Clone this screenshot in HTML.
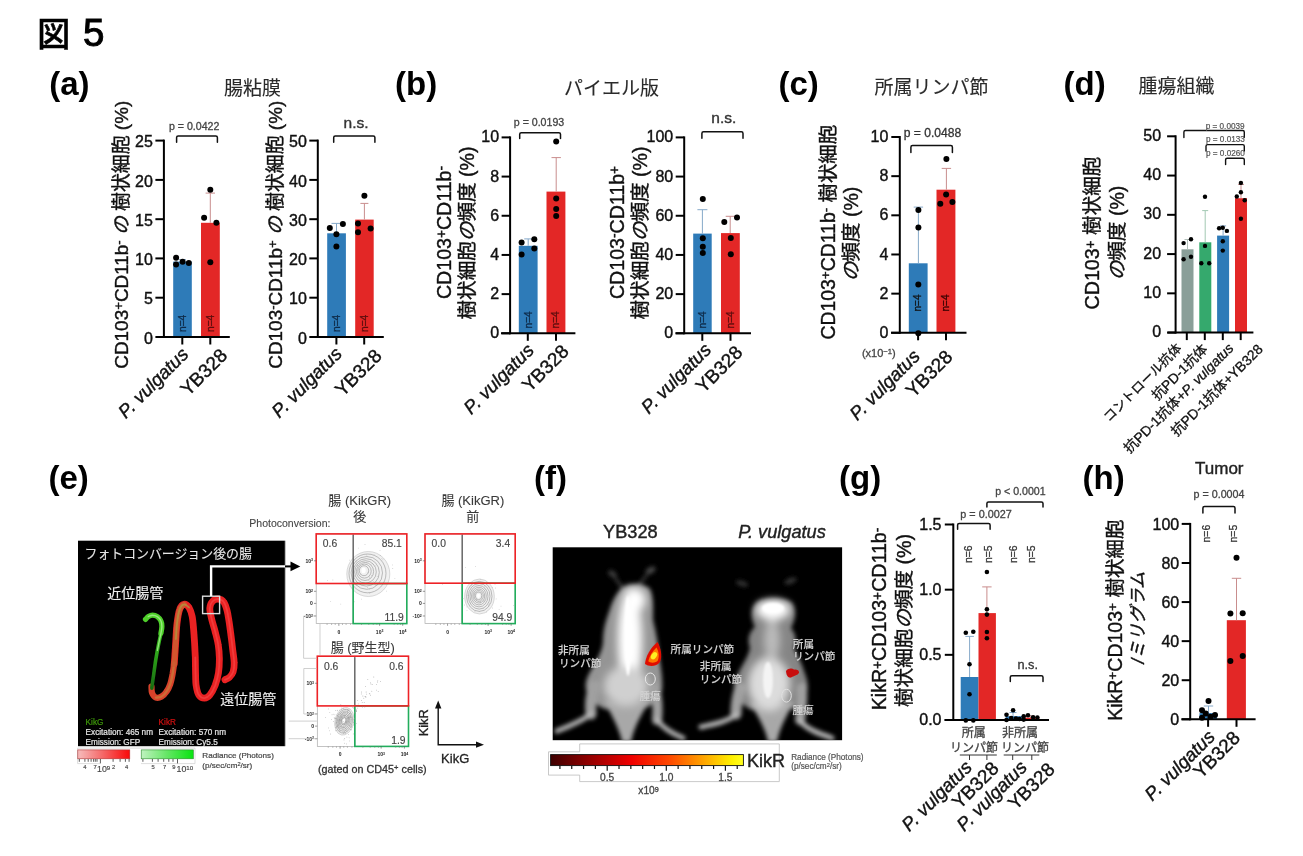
<!DOCTYPE html>
<html lang="ja"><head><meta charset="utf-8"><title>図 5</title>
<style>
html,body{margin:0;padding:0;background:#fff;}
body{width:1303px;height:856px;overflow:hidden;}
svg{display:block;font-family:"Liberation Sans", "Noto Sans CJK JP", sans-serif;}
</style></head><body>
<svg width="1303" height="856" viewBox="0 0 1303 856">
<rect width="1303" height="856" fill="#fff"/>
<defs><filter id="bl1" x="-20%" y="-20%" width="140%" height="140%"><feGaussianBlur stdDeviation="0.7"/></filter>
<filter id="bl2" x="-30%" y="-30%" width="160%" height="160%"><feGaussianBlur stdDeviation="2.2"/></filter>
<filter id="bl3" x="-30%" y="-30%" width="160%" height="160%"><feGaussianBlur stdDeviation="4"/></filter>
<filter id="bl4" x="-30%" y="-30%" width="160%" height="160%"><feGaussianBlur stdDeviation="1.3"/></filter>
<filter id="bl5" x="-30%" y="-30%" width="160%" height="160%"><feGaussianBlur stdDeviation="6"/></filter>
<linearGradient id="gGr" gradientUnits="userSpaceOnUse" x1="0" y1="615" x2="0" y2="690"><stop offset="0" stop-color="#52d82e"/><stop offset="0.35" stop-color="#36b81e"/><stop offset="1" stop-color="#176a10"/></linearGradient>
<linearGradient id="gR" x1="0" x2="1"><stop offset="0" stop-color="#f6bcbc"/><stop offset="0.5" stop-color="#f56464"/><stop offset="1" stop-color="#fa0808"/></linearGradient>
<linearGradient id="gG" x1="0" x2="1"><stop offset="0" stop-color="#c0f2c0"/><stop offset="0.5" stop-color="#64e664"/><stop offset="1" stop-color="#08e410"/></linearGradient>
<linearGradient id="gK" x1="0" x2="1"><stop offset="0" stop-color="#3d0000"/><stop offset="0.18" stop-color="#8a0000"/><stop offset="0.42" stop-color="#f00000"/><stop offset="0.62" stop-color="#ff4a00"/><stop offset="0.8" stop-color="#ffa800"/><stop offset="0.94" stop-color="#fff000"/><stop offset="1" stop-color="#ffff20"/></linearGradient></defs>
<text x="37.2" y="45.9" font-size="33" font-weight="500" fill="#000" stroke="#000" stroke-width="0.5">図<tspan dx="12.7" font-size="38.5" stroke-width="1">5</tspan></text>
<text transform="translate(49.20 94.80)" font-size="33" font-weight="bold" fill="#000">(a)</text>
<text transform="translate(395.10 94.80)" font-size="33" font-weight="bold" fill="#000">(b)</text>
<text transform="translate(778.50 94.80)" font-size="33" font-weight="bold" fill="#000">(c)</text>
<text transform="translate(1063.50 94.80)" font-size="33" font-weight="bold" fill="#000">(d)</text>
<text transform="translate(48.50 489.20)" font-size="33" font-weight="bold" fill="#000">(e)</text>
<text transform="translate(533.90 489.20)" font-size="33" font-weight="bold" fill="#000">(f)</text>
<text transform="translate(839.10 489.20)" font-size="33" font-weight="bold" fill="#000">(g)</text>
<text transform="translate(1082.50 489.20)" font-size="33" font-weight="bold" fill="#000">(h)</text>
<text transform="translate(252.50 94.80)" font-size="19" text-anchor="middle" fill="#2a2a2a" stroke="#2a2a2a" stroke-width="0.12">腸粘膜</text>
<text transform="translate(611.50 94.80)" font-size="19" text-anchor="middle" fill="#2a2a2a" stroke="#2a2a2a" stroke-width="0.12">パイエル版</text>
<text transform="translate(931.50 93.50)" font-size="19" text-anchor="middle" fill="#2a2a2a" stroke="#2a2a2a" stroke-width="0.12">所属リンパ節</text>
<text transform="translate(1176.50 93.30)" font-size="19" text-anchor="middle" fill="#2a2a2a" stroke="#2a2a2a" stroke-width="0.12">腫瘍組織</text>
<rect x="173.20" y="261.60" width="18.60" height="75.40" fill="#2e7bb8"/>
<line x1="182.50" y1="261.60" x2="182.50" y2="259.60" stroke="#86a9c9" stroke-width="1"/>
<line x1="179.00" y1="259.60" x2="186.00" y2="259.60" stroke="#86a9c9" stroke-width="1"/>
<rect x="201.00" y="222.80" width="18.80" height="114.20" fill="#e32726"/>
<line x1="210.30" y1="222.80" x2="210.30" y2="193.10" stroke="#c98d8d" stroke-width="1"/>
<line x1="205.60" y1="193.10" x2="215.00" y2="193.10" stroke="#c98d8d" stroke-width="1"/>
<line x1="163.90" y1="139.60" x2="163.90" y2="338.00" stroke="#000" stroke-width="2"/>
<line x1="156.50" y1="337.00" x2="229.80" y2="337.00" stroke="#000" stroke-width="2"/>
<line x1="155.40" y1="140.60" x2="163.90" y2="140.60" stroke="#000" stroke-width="2"/>
<text transform="translate(152.90 147.33)" font-size="16" text-anchor="end" fill="#111" stroke="#111" stroke-width="0.4">25</text>
<line x1="155.40" y1="179.90" x2="163.90" y2="179.90" stroke="#000" stroke-width="2"/>
<text transform="translate(152.90 186.63)" font-size="16" text-anchor="end" fill="#111" stroke="#111" stroke-width="0.4">20</text>
<line x1="155.40" y1="219.20" x2="163.90" y2="219.20" stroke="#000" stroke-width="2"/>
<text transform="translate(152.90 225.93)" font-size="16" text-anchor="end" fill="#111" stroke="#111" stroke-width="0.4">15</text>
<line x1="155.40" y1="258.40" x2="163.90" y2="258.40" stroke="#000" stroke-width="2"/>
<text transform="translate(152.90 265.13)" font-size="16" text-anchor="end" fill="#111" stroke="#111" stroke-width="0.4">10</text>
<line x1="155.40" y1="297.70" x2="163.90" y2="297.70" stroke="#000" stroke-width="2"/>
<text transform="translate(152.90 304.43)" font-size="16" text-anchor="end" fill="#111" stroke="#111" stroke-width="0.4">5</text>
<line x1="155.40" y1="337.00" x2="163.90" y2="337.00" stroke="#000" stroke-width="2"/>
<text transform="translate(152.90 343.73)" font-size="16" text-anchor="end" fill="#111" stroke="#111" stroke-width="0.4">0</text>
<line x1="182.30" y1="337.00" x2="182.30" y2="344.50" stroke="#000" stroke-width="2"/>
<line x1="210.30" y1="337.00" x2="210.30" y2="344.50" stroke="#000" stroke-width="2"/>
<circle cx="176.10" cy="257.80" r="3" fill="#000"/>
<circle cx="176.10" cy="264.40" r="3" fill="#000"/>
<circle cx="182.60" cy="261.70" r="3" fill="#000"/>
<circle cx="188.80" cy="263.10" r="3" fill="#000"/>
<circle cx="210.30" cy="189.70" r="3" fill="#000"/>
<circle cx="204.10" cy="217.80" r="3" fill="#000"/>
<circle cx="216.40" cy="222.80" r="3" fill="#000"/>
<circle cx="210.30" cy="262.20" r="3" fill="#000"/>
<text transform="translate(185.80 332.00) rotate(-90)" font-size="10.2" fill="#0e2a47" stroke="#0e2a47" stroke-width="0.3">n=4</text>
<text transform="translate(213.80 332.00) rotate(-90)" font-size="10.2" fill="#5a0d0d" stroke="#5a0d0d" stroke-width="0.3">n=4</text>
<path d="M176.60 142.30 V137.60 Q176.60 136.00 178.20 136.00 H215.80 Q217.40 136.00 217.40 137.60 V142.30" fill="none" stroke="#111" stroke-width="1.5" stroke-linecap="round"/>
<text transform="translate(194.20 129.90)" font-size="10.6" text-anchor="middle" fill="#444" stroke="#444" stroke-width="0.3">p = 0.0422</text>
<text transform="translate(127.90 234.70) rotate(-90)" font-size="18.9" text-anchor="middle" fill="#111" stroke="#111" stroke-width="0.4">CD103<tspan dy="-0.34em" font-size="70%">+</tspan><tspan dy="0.238em">CD11b</tspan><tspan dy="-0.34em" font-size="70%">-</tspan><tspan dy="0.238em"> </tspan><tspan font-style="italic">の</tspan> 樹状細胞 (%)</text>
<text transform="translate(189.50 355.50) rotate(-45)" font-size="18.7" text-anchor="end" font-style="italic" fill="#111" stroke="#111" stroke-width="0.4">P. vulgatus</text>
<text transform="translate(228.50 356.50) rotate(-45)" font-size="19" text-anchor="end" fill="#111" stroke="#111" stroke-width="0.4">YB328</text>
<rect x="327.20" y="233.30" width="18.70" height="103.70" fill="#2e7bb8"/>
<line x1="336.50" y1="233.30" x2="336.50" y2="223.40" stroke="#86a9c9" stroke-width="1"/>
<line x1="331.50" y1="223.40" x2="341.50" y2="223.40" stroke="#86a9c9" stroke-width="1"/>
<rect x="355.20" y="219.60" width="18.50" height="117.40" fill="#e32726"/>
<line x1="364.40" y1="219.60" x2="364.40" y2="203.40" stroke="#c98d8d" stroke-width="1"/>
<line x1="360.40" y1="203.40" x2="368.40" y2="203.40" stroke="#c98d8d" stroke-width="1"/>
<line x1="317.80" y1="139.60" x2="317.80" y2="338.00" stroke="#000" stroke-width="2"/>
<line x1="310.00" y1="337.00" x2="383.80" y2="337.00" stroke="#000" stroke-width="2"/>
<line x1="309.30" y1="140.60" x2="317.80" y2="140.60" stroke="#000" stroke-width="2"/>
<text transform="translate(306.80 147.33)" font-size="16" text-anchor="end" fill="#111" stroke="#111" stroke-width="0.4">50</text>
<line x1="309.30" y1="179.90" x2="317.80" y2="179.90" stroke="#000" stroke-width="2"/>
<text transform="translate(306.80 186.63)" font-size="16" text-anchor="end" fill="#111" stroke="#111" stroke-width="0.4">40</text>
<line x1="309.30" y1="219.20" x2="317.80" y2="219.20" stroke="#000" stroke-width="2"/>
<text transform="translate(306.80 225.93)" font-size="16" text-anchor="end" fill="#111" stroke="#111" stroke-width="0.4">30</text>
<line x1="309.30" y1="258.40" x2="317.80" y2="258.40" stroke="#000" stroke-width="2"/>
<text transform="translate(306.80 265.13)" font-size="16" text-anchor="end" fill="#111" stroke="#111" stroke-width="0.4">20</text>
<line x1="309.30" y1="297.70" x2="317.80" y2="297.70" stroke="#000" stroke-width="2"/>
<text transform="translate(306.80 304.43)" font-size="16" text-anchor="end" fill="#111" stroke="#111" stroke-width="0.4">10</text>
<line x1="309.30" y1="337.00" x2="317.80" y2="337.00" stroke="#000" stroke-width="2"/>
<text transform="translate(306.80 343.73)" font-size="16" text-anchor="end" fill="#111" stroke="#111" stroke-width="0.4">0</text>
<line x1="336.40" y1="337.00" x2="336.40" y2="344.50" stroke="#000" stroke-width="2"/>
<line x1="364.20" y1="337.00" x2="364.20" y2="344.50" stroke="#000" stroke-width="2"/>
<circle cx="329.80" cy="228.00" r="3" fill="#000"/>
<circle cx="342.90" cy="223.90" r="3" fill="#000"/>
<circle cx="336.40" cy="234.20" r="3" fill="#000"/>
<circle cx="336.40" cy="246.40" r="3" fill="#000"/>
<circle cx="364.40" cy="195.70" r="3" fill="#000"/>
<circle cx="358.00" cy="223.40" r="3" fill="#000"/>
<circle cx="370.60" cy="228.60" r="3" fill="#000"/>
<circle cx="358.00" cy="232.30" r="3" fill="#000"/>
<text transform="translate(339.80 332.00) rotate(-90)" font-size="10.2" fill="#0e2a47" stroke="#0e2a47" stroke-width="0.3">n=4</text>
<text transform="translate(367.80 332.00) rotate(-90)" font-size="10.2" fill="#5a0d0d" stroke="#5a0d0d" stroke-width="0.3">n=4</text>
<path d="M333.70 142.30 V137.60 Q333.70 136.00 335.30 136.00 H373.30 Q374.90 136.00 374.90 137.60 V142.30" fill="none" stroke="#111" stroke-width="1.5" stroke-linecap="round"/>
<text transform="translate(356.00 127.70)" font-size="15.5" text-anchor="middle" fill="#333" stroke="#333" stroke-width="0.4">n.s.</text>
<text transform="translate(281.70 234.70) rotate(-90)" font-size="18.9" text-anchor="middle" fill="#111" stroke="#111" stroke-width="0.4">CD103<tspan dy="-0.34em" font-size="70%">-</tspan><tspan dy="0.238em">CD11b</tspan><tspan dy="-0.34em" font-size="70%">+</tspan><tspan dy="0.238em"> </tspan><tspan font-style="italic">の</tspan> 樹状細胞 (%)</text>
<text transform="translate(343.00 355.00) rotate(-45)" font-size="18.7" text-anchor="end" font-style="italic" fill="#111" stroke="#111" stroke-width="0.4">P. vulgatus</text>
<text transform="translate(383.00 357.00) rotate(-45)" font-size="19" text-anchor="end" fill="#111" stroke="#111" stroke-width="0.4">YB328</text>
<rect x="518.80" y="245.80" width="18.80" height="87.50" fill="#2e7bb8"/>
<line x1="528.20" y1="245.80" x2="528.20" y2="238.90" stroke="#86a9c9" stroke-width="1"/>
<line x1="524.20" y1="238.90" x2="532.20" y2="238.90" stroke="#86a9c9" stroke-width="1"/>
<rect x="546.50" y="191.60" width="18.90" height="141.70" fill="#e32726"/>
<line x1="556.20" y1="191.60" x2="556.20" y2="157.60" stroke="#c98d8d" stroke-width="1"/>
<line x1="551.50" y1="157.60" x2="560.90" y2="157.60" stroke="#c98d8d" stroke-width="1"/>
<line x1="510.10" y1="136.40" x2="510.10" y2="334.30" stroke="#000" stroke-width="2"/>
<line x1="501.00" y1="333.30" x2="575.40" y2="333.30" stroke="#000" stroke-width="2"/>
<line x1="501.60" y1="137.40" x2="510.10" y2="137.40" stroke="#000" stroke-width="2"/>
<text transform="translate(499.10 142.43)" font-size="16" text-anchor="end" fill="#111" stroke="#111" stroke-width="0.4">10</text>
<line x1="501.60" y1="176.58" x2="510.10" y2="176.58" stroke="#000" stroke-width="2"/>
<text transform="translate(499.10 181.61)" font-size="16" text-anchor="end" fill="#111" stroke="#111" stroke-width="0.4">8</text>
<line x1="501.60" y1="215.76" x2="510.10" y2="215.76" stroke="#000" stroke-width="2"/>
<text transform="translate(499.10 220.79)" font-size="16" text-anchor="end" fill="#111" stroke="#111" stroke-width="0.4">6</text>
<line x1="501.60" y1="254.94" x2="510.10" y2="254.94" stroke="#000" stroke-width="2"/>
<text transform="translate(499.10 259.97)" font-size="16" text-anchor="end" fill="#111" stroke="#111" stroke-width="0.4">4</text>
<line x1="501.60" y1="294.12" x2="510.10" y2="294.12" stroke="#000" stroke-width="2"/>
<text transform="translate(499.10 299.15)" font-size="16" text-anchor="end" fill="#111" stroke="#111" stroke-width="0.4">2</text>
<line x1="501.60" y1="333.30" x2="510.10" y2="333.30" stroke="#000" stroke-width="2"/>
<text transform="translate(499.10 338.33)" font-size="16" text-anchor="end" fill="#111" stroke="#111" stroke-width="0.4">0</text>
<line x1="527.80" y1="333.30" x2="527.80" y2="340.80" stroke="#000" stroke-width="2"/>
<line x1="556.00" y1="333.30" x2="556.00" y2="340.80" stroke="#000" stroke-width="2"/>
<circle cx="521.60" cy="242.40" r="3" fill="#000"/>
<circle cx="534.30" cy="239.30" r="3" fill="#000"/>
<circle cx="534.30" cy="248.60" r="3" fill="#000"/>
<circle cx="521.60" cy="254.60" r="3" fill="#000"/>
<circle cx="556.20" cy="141.50" r="3" fill="#000"/>
<circle cx="556.20" cy="198.50" r="3" fill="#000"/>
<circle cx="556.20" cy="209.00" r="3" fill="#000"/>
<circle cx="556.20" cy="215.90" r="3" fill="#000"/>
<text transform="translate(531.50 328.50) rotate(-90)" font-size="10.2" fill="#0e2a47" stroke="#0e2a47" stroke-width="0.3">n=4</text>
<text transform="translate(559.30 328.50) rotate(-90)" font-size="10.2" fill="#5a0d0d" stroke="#5a0d0d" stroke-width="0.3">n=4</text>
<path d="M519.70 138.60 V134.30 Q519.70 132.70 521.30 132.70 H558.90 Q560.50 132.70 560.50 134.30 V138.60" fill="none" stroke="#111" stroke-width="1.5" stroke-linecap="round"/>
<text transform="translate(539.00 125.80)" font-size="10.6" text-anchor="middle" fill="#444" stroke="#444" stroke-width="0.3">p = 0.0193</text>
<text transform="translate(451.00 232.50) rotate(-90)" font-size="19.6" text-anchor="middle" fill="#111" stroke="#111" stroke-width="0.4">CD103<tspan dy="-0.34em" font-size="70%">+</tspan><tspan dy="0.238em">CD11b</tspan><tspan dy="-0.34em" font-size="70%">-</tspan></text>
<text transform="translate(474.30 233.00) rotate(-90)" font-size="19.6" text-anchor="middle" fill="#111" stroke="#111" stroke-width="0.4">樹状細胞<tspan font-style="italic">の</tspan>頻度 (%)</text>
<text transform="translate(535.00 351.50) rotate(-45)" font-size="18.7" text-anchor="end" font-style="italic" fill="#111" stroke="#111" stroke-width="0.4">P. vulgatus</text>
<text transform="translate(570.00 352.50) rotate(-45)" font-size="19" text-anchor="end" fill="#111" stroke="#111" stroke-width="0.4">YB328</text>
<rect x="693.20" y="233.60" width="18.50" height="99.70" fill="#2e7bb8"/>
<line x1="702.40" y1="233.60" x2="702.40" y2="209.70" stroke="#86a9c9" stroke-width="1"/>
<line x1="697.40" y1="209.70" x2="707.40" y2="209.70" stroke="#86a9c9" stroke-width="1"/>
<rect x="721.00" y="233.10" width="18.80" height="100.20" fill="#e32726"/>
<line x1="730.20" y1="233.10" x2="730.20" y2="216.30" stroke="#c98d8d" stroke-width="1"/>
<line x1="725.70" y1="216.30" x2="734.70" y2="216.30" stroke="#c98d8d" stroke-width="1"/>
<line x1="684.20" y1="136.40" x2="684.20" y2="334.30" stroke="#000" stroke-width="2"/>
<line x1="675.50" y1="333.30" x2="751.00" y2="333.30" stroke="#000" stroke-width="2"/>
<line x1="675.70" y1="137.40" x2="684.20" y2="137.40" stroke="#000" stroke-width="2"/>
<text transform="translate(673.20 142.43)" font-size="16" text-anchor="end" fill="#111" stroke="#111" stroke-width="0.4">100</text>
<line x1="675.70" y1="176.58" x2="684.20" y2="176.58" stroke="#000" stroke-width="2"/>
<text transform="translate(673.20 181.61)" font-size="16" text-anchor="end" fill="#111" stroke="#111" stroke-width="0.4">80</text>
<line x1="675.70" y1="215.76" x2="684.20" y2="215.76" stroke="#000" stroke-width="2"/>
<text transform="translate(673.20 220.79)" font-size="16" text-anchor="end" fill="#111" stroke="#111" stroke-width="0.4">60</text>
<line x1="675.70" y1="254.94" x2="684.20" y2="254.94" stroke="#000" stroke-width="2"/>
<text transform="translate(673.20 259.97)" font-size="16" text-anchor="end" fill="#111" stroke="#111" stroke-width="0.4">40</text>
<line x1="675.70" y1="294.12" x2="684.20" y2="294.12" stroke="#000" stroke-width="2"/>
<text transform="translate(673.20 299.15)" font-size="16" text-anchor="end" fill="#111" stroke="#111" stroke-width="0.4">20</text>
<line x1="675.70" y1="333.30" x2="684.20" y2="333.30" stroke="#000" stroke-width="2"/>
<text transform="translate(673.20 338.33)" font-size="16" text-anchor="end" fill="#111" stroke="#111" stroke-width="0.4">0</text>
<line x1="702.30" y1="333.30" x2="702.30" y2="340.80" stroke="#000" stroke-width="2"/>
<line x1="730.50" y1="333.30" x2="730.50" y2="340.80" stroke="#000" stroke-width="2"/>
<circle cx="702.80" cy="199.10" r="3" fill="#000"/>
<circle cx="702.80" cy="238.30" r="3" fill="#000"/>
<circle cx="702.80" cy="246.70" r="3" fill="#000"/>
<circle cx="702.80" cy="252.90" r="3" fill="#000"/>
<circle cx="737.00" cy="217.40" r="3" fill="#000"/>
<circle cx="724.30" cy="222.10" r="3" fill="#000"/>
<circle cx="730.80" cy="237.90" r="3" fill="#000"/>
<circle cx="730.80" cy="254.20" r="3" fill="#000"/>
<text transform="translate(705.80 328.50) rotate(-90)" font-size="10.2" fill="#0e2a47" stroke="#0e2a47" stroke-width="0.3">n=4</text>
<text transform="translate(733.80 328.50) rotate(-90)" font-size="10.2" fill="#5a0d0d" stroke="#5a0d0d" stroke-width="0.3">n=4</text>
<path d="M701.90 138.30 V133.40 Q701.90 131.80 703.50 131.80 H741.40 Q743.00 131.80 743.00 133.40 V138.30" fill="none" stroke="#111" stroke-width="1.5" stroke-linecap="round"/>
<text transform="translate(723.80 123.40)" font-size="15.5" text-anchor="middle" fill="#333" stroke="#333" stroke-width="0.4">n.s.</text>
<text transform="translate(623.50 232.50) rotate(-90)" font-size="19.6" text-anchor="middle" fill="#111" stroke="#111" stroke-width="0.4">CD103<tspan dy="-0.34em" font-size="70%">-</tspan><tspan dy="0.238em">CD11b</tspan><tspan dy="-0.34em" font-size="70%">+</tspan></text>
<text transform="translate(646.80 233.00) rotate(-90)" font-size="19.6" text-anchor="middle" fill="#111" stroke="#111" stroke-width="0.4">樹状細胞<tspan font-style="italic">の</tspan>頻度 (%)</text>
<text transform="translate(712.30 351.00) rotate(-45)" font-size="18.7" text-anchor="end" font-style="italic" fill="#111" stroke="#111" stroke-width="0.4">P. vulgatus</text>
<text transform="translate(743.80 353.50) rotate(-45)" font-size="19" text-anchor="end" fill="#111" stroke="#111" stroke-width="0.4">YB328</text>
<rect x="908.80" y="263.30" width="18.80" height="69.50" fill="#2e7bb8"/>
<line x1="918.40" y1="263.30" x2="918.40" y2="207.10" stroke="#86a9c9" stroke-width="1"/>
<line x1="913.70" y1="207.10" x2="923.10" y2="207.10" stroke="#86a9c9" stroke-width="1"/>
<rect x="936.50" y="189.70" width="18.90" height="143.10" fill="#e32726"/>
<line x1="946.40" y1="189.70" x2="946.40" y2="168.40" stroke="#c98d8d" stroke-width="1"/>
<line x1="941.70" y1="168.40" x2="951.10" y2="168.40" stroke="#c98d8d" stroke-width="1"/>
<line x1="899.80" y1="136.00" x2="899.80" y2="333.80" stroke="#000" stroke-width="2"/>
<line x1="891.00" y1="332.80" x2="966.50" y2="332.80" stroke="#000" stroke-width="2"/>
<line x1="891.30" y1="137.00" x2="899.80" y2="137.00" stroke="#000" stroke-width="2"/>
<text transform="translate(888.30 142.13)" font-size="16" text-anchor="end" fill="#111" stroke="#111" stroke-width="0.4">10</text>
<line x1="891.30" y1="176.16" x2="899.80" y2="176.16" stroke="#000" stroke-width="2"/>
<text transform="translate(888.30 181.29)" font-size="16" text-anchor="end" fill="#111" stroke="#111" stroke-width="0.4">8</text>
<line x1="891.30" y1="215.32" x2="899.80" y2="215.32" stroke="#000" stroke-width="2"/>
<text transform="translate(888.30 220.45)" font-size="16" text-anchor="end" fill="#111" stroke="#111" stroke-width="0.4">6</text>
<line x1="891.30" y1="254.48" x2="899.80" y2="254.48" stroke="#000" stroke-width="2"/>
<text transform="translate(888.30 259.61)" font-size="16" text-anchor="end" fill="#111" stroke="#111" stroke-width="0.4">4</text>
<line x1="891.30" y1="293.64" x2="899.80" y2="293.64" stroke="#000" stroke-width="2"/>
<text transform="translate(888.30 298.77)" font-size="16" text-anchor="end" fill="#111" stroke="#111" stroke-width="0.4">2</text>
<line x1="891.30" y1="332.80" x2="899.80" y2="332.80" stroke="#000" stroke-width="2"/>
<text transform="translate(888.30 337.93)" font-size="16" text-anchor="end" fill="#111" stroke="#111" stroke-width="0.4">0</text>
<line x1="918.10" y1="332.80" x2="918.10" y2="340.30" stroke="#000" stroke-width="2"/>
<line x1="946.00" y1="332.80" x2="946.00" y2="340.30" stroke="#000" stroke-width="2"/>
<circle cx="918.40" cy="209.90" r="3" fill="#000"/>
<circle cx="918.40" cy="227.50" r="3" fill="#000"/>
<circle cx="918.30" cy="284.40" r="3" fill="#000"/>
<circle cx="918.30" cy="333.20" r="3" fill="#000"/>
<circle cx="946.40" cy="158.90" r="3" fill="#000"/>
<circle cx="946.10" cy="194.40" r="3" fill="#000"/>
<circle cx="940.30" cy="203.70" r="3" fill="#000"/>
<circle cx="952.40" cy="201.90" r="3" fill="#000"/>
<text transform="translate(921.20 311.50) rotate(-90)" font-size="10.5" fill="#111" stroke="#111" stroke-width="0.3" textLength="17" lengthAdjust="spacingAndGlyphs">n=4</text>
<text transform="translate(949.20 311.50) rotate(-90)" font-size="10.5" fill="#300" stroke="#300" stroke-width="0.3" textLength="17" lengthAdjust="spacingAndGlyphs">n=4</text>
<path d="M910.90 152.50 V147.20 Q910.90 145.60 912.50 145.60 H950.80 Q952.40 145.60 952.40 147.20 V152.50" fill="none" stroke="#111" stroke-width="1.5" stroke-linecap="round"/>
<text transform="translate(932.50 137.40)" font-size="12.1" text-anchor="middle" fill="#333" stroke="#333" stroke-width="0.3">p = 0.0488</text>
<text transform="translate(878.80 353.40)" font-size="11" text-anchor="middle" fill="#444" stroke="#444" stroke-width="0.3" dominant-baseline="central">(x10<tspan dy="-0.34em" font-size="70%">−1</tspan><tspan dy="0.238em">)</tspan></text>
<text transform="translate(834.50 232.20) rotate(-90)" font-size="19.4" text-anchor="middle" fill="#111" stroke="#111" stroke-width="0.4">CD103<tspan dy="-0.34em" font-size="70%">+</tspan><tspan dy="0.238em">CD11b</tspan><tspan dy="-0.34em" font-size="70%">-</tspan><tspan dy="0.238em"> 樹状細胞</tspan></text>
<text transform="translate(857.50 234.00) rotate(-90)" font-size="19.6" text-anchor="middle" fill="#111" stroke="#111" stroke-width="0.4"><tspan font-style="italic">の</tspan>頻度 (%)</text>
<text transform="translate(921.00 357.50) rotate(-45)" font-size="18.7" text-anchor="end" font-style="italic" fill="#111" stroke="#111" stroke-width="0.4">P. vulgatus</text>
<text transform="translate(953.80 358.00) rotate(-45)" font-size="19" text-anchor="end" fill="#111" stroke="#111" stroke-width="0.4">YB328</text>
<rect x="1181.50" y="249.30" width="12.00" height="83.30" fill="#8a9f99"/>
<line x1="1187.50" y1="249.30" x2="1187.50" y2="239.50" stroke="#b3c0bb" stroke-width="1"/>
<line x1="1184.50" y1="239.50" x2="1190.50" y2="239.50" stroke="#b3c0bb" stroke-width="1"/>
<rect x="1199.30" y="242.30" width="12.00" height="90.30" fill="#35a96d"/>
<line x1="1205.20" y1="242.30" x2="1205.20" y2="210.60" stroke="#a3c9b3" stroke-width="1"/>
<line x1="1202.20" y1="210.60" x2="1208.20" y2="210.60" stroke="#a3c9b3" stroke-width="1"/>
<rect x="1217.10" y="235.60" width="12.00" height="97.00" fill="#2e7bb8"/>
<line x1="1223.10" y1="235.60" x2="1223.10" y2="225.90" stroke="#86a9c9" stroke-width="1"/>
<line x1="1220.10" y1="225.90" x2="1226.10" y2="225.90" stroke="#86a9c9" stroke-width="1"/>
<rect x="1235.00" y="198.20" width="12.00" height="134.40" fill="#e32726"/>
<line x1="1241.00" y1="198.20" x2="1241.00" y2="184.40" stroke="#c98d8d" stroke-width="1"/>
<line x1="1238.00" y1="184.40" x2="1244.00" y2="184.40" stroke="#c98d8d" stroke-width="1"/>
<line x1="1175.60" y1="135.30" x2="1175.60" y2="333.60" stroke="#000" stroke-width="2"/>
<line x1="1167.50" y1="332.60" x2="1253.40" y2="332.60" stroke="#000" stroke-width="2"/>
<line x1="1167.10" y1="136.30" x2="1175.60" y2="136.30" stroke="#000" stroke-width="2"/>
<text transform="translate(1161.10 140.83)" font-size="16" text-anchor="end" fill="#111" stroke="#111" stroke-width="0.4">50</text>
<line x1="1167.10" y1="175.56" x2="1175.60" y2="175.56" stroke="#000" stroke-width="2"/>
<text transform="translate(1161.10 180.09)" font-size="16" text-anchor="end" fill="#111" stroke="#111" stroke-width="0.4">40</text>
<line x1="1167.10" y1="214.82" x2="1175.60" y2="214.82" stroke="#000" stroke-width="2"/>
<text transform="translate(1161.10 219.35)" font-size="16" text-anchor="end" fill="#111" stroke="#111" stroke-width="0.4">30</text>
<line x1="1167.10" y1="254.08" x2="1175.60" y2="254.08" stroke="#000" stroke-width="2"/>
<text transform="translate(1161.10 258.61)" font-size="16" text-anchor="end" fill="#111" stroke="#111" stroke-width="0.4">20</text>
<line x1="1167.10" y1="293.34" x2="1175.60" y2="293.34" stroke="#000" stroke-width="2"/>
<text transform="translate(1161.10 297.87)" font-size="16" text-anchor="end" fill="#111" stroke="#111" stroke-width="0.4">10</text>
<line x1="1167.10" y1="332.60" x2="1175.60" y2="332.60" stroke="#000" stroke-width="2"/>
<text transform="translate(1161.10 337.13)" font-size="16" text-anchor="end" fill="#111" stroke="#111" stroke-width="0.4">0</text>
<line x1="1186.80" y1="332.60" x2="1186.80" y2="340.10" stroke="#000" stroke-width="2"/>
<line x1="1204.80" y1="332.60" x2="1204.80" y2="340.10" stroke="#000" stroke-width="2"/>
<line x1="1222.80" y1="332.60" x2="1222.80" y2="340.10" stroke="#000" stroke-width="2"/>
<line x1="1240.70" y1="332.60" x2="1240.70" y2="340.10" stroke="#000" stroke-width="2"/>
<circle cx="1183.60" cy="243.10" r="2.2" fill="#000"/>
<circle cx="1191.00" cy="239.30" r="2.2" fill="#000"/>
<circle cx="1183.60" cy="259.20" r="2.2" fill="#000"/>
<circle cx="1191.00" cy="256.70" r="2.2" fill="#000"/>
<circle cx="1205.00" cy="196.70" r="2.2" fill="#000"/>
<circle cx="1205.00" cy="245.90" r="2.2" fill="#000"/>
<circle cx="1201.30" cy="263.30" r="2.2" fill="#000"/>
<circle cx="1209.20" cy="263.30" r="2.2" fill="#000"/>
<circle cx="1219.10" cy="228.30" r="2.2" fill="#000"/>
<circle cx="1222.80" cy="227.80" r="2.2" fill="#000"/>
<circle cx="1226.90" cy="230.90" r="2.2" fill="#000"/>
<circle cx="1222.80" cy="241.20" r="2.2" fill="#000"/>
<circle cx="1222.80" cy="250.60" r="2.2" fill="#000"/>
<circle cx="1240.90" cy="182.90" r="2.2" fill="#000"/>
<circle cx="1240.90" cy="192.20" r="2.2" fill="#000"/>
<circle cx="1236.80" cy="196.50" r="2.2" fill="#000"/>
<circle cx="1244.70" cy="200.30" r="2.2" fill="#000"/>
<circle cx="1240.90" cy="218.80" r="2.2" fill="#000"/>
<path d="M1183.90 137.60 V132.10 Q1183.90 130.50 1185.50 130.50 H1242.70 Q1244.30 130.50 1244.30 132.10 V137.60" fill="none" stroke="#111" stroke-width="1.4" stroke-linecap="round"/>
<path d="M1206.00 151.10 V146.20 Q1206.00 144.60 1207.60 144.60 H1242.70 Q1244.30 144.60 1244.30 146.20 V151.10" fill="none" stroke="#111" stroke-width="1.4" stroke-linecap="round"/>
<path d="M1225.60 164.60 V159.80 Q1225.60 158.20 1227.20 158.20 H1242.70 Q1244.30 158.20 1244.30 159.80 V164.60" fill="none" stroke="#111" stroke-width="1.4" stroke-linecap="round"/>
<text transform="translate(1244.60 128.70)" font-size="8.2" text-anchor="end" fill="#555" stroke="#555" stroke-width="0.2">p = 0.0039</text>
<text transform="translate(1244.90 141.80)" font-size="8.2" text-anchor="end" fill="#555" stroke="#555" stroke-width="0.2">p = 0.0133</text>
<text transform="translate(1244.90 156.20)" font-size="8.2" text-anchor="end" fill="#555" stroke="#555" stroke-width="0.2">p = 0.0260</text>
<text transform="translate(1099.30 233.00) rotate(-90)" font-size="19.6" text-anchor="middle" fill="#111" stroke="#111" stroke-width="0.4">CD103<tspan dy="-0.34em" font-size="70%">+</tspan><tspan dy="0.238em">  樹状細胞</tspan></text>
<text transform="translate(1124.30 233.00) rotate(-90)" font-size="19.6" text-anchor="middle" fill="#111" stroke="#111" stroke-width="0.4"><tspan font-style="italic">の</tspan>頻度 (%)</text>
<text transform="translate(1182.50 349.00) rotate(-45)" font-size="13" text-anchor="end" fill="#111" stroke="#111" stroke-width="0.3">コントロール抗体</text>
<text transform="translate(1208.50 350.00) rotate(-45)" font-size="13.7" text-anchor="end" fill="#111" stroke="#111" stroke-width="0.3">抗PD-1抗体</text>
<text transform="translate(1234.50 349.00) rotate(-45)" font-size="13.9" text-anchor="end" fill="#111" stroke="#111" stroke-width="0.3">抗PD-1抗体+<tspan font-style="italic">P. vulgatus</tspan></text>
<text transform="translate(1263.80 350.00) rotate(-45)" font-size="13.9" text-anchor="end" fill="#111" stroke="#111" stroke-width="0.3">抗PD-1抗体+YB328</text>
<rect x="960.70" y="677.00" width="17.80" height="43.00" fill="#2e7bb8"/>
<line x1="969.60" y1="677.00" x2="969.60" y2="636.40" stroke="#86a9c9" stroke-width="1"/>
<line x1="965.30" y1="636.40" x2="973.90" y2="636.40" stroke="#86a9c9" stroke-width="1"/>
<rect x="978.50" y="613.10" width="17.40" height="106.90" fill="#e32726"/>
<line x1="986.90" y1="613.10" x2="986.90" y2="586.90" stroke="#c98d8d" stroke-width="1"/>
<line x1="982.20" y1="586.90" x2="991.60" y2="586.90" stroke="#c98d8d" stroke-width="1"/>
<rect x="1005.60" y="716.20" width="17.80" height="3.80" fill="#2e7bb8"/>
<line x1="1013.00" y1="716.20" x2="1013.00" y2="712.50" stroke="#86a9c9" stroke-width="1"/>
<line x1="1009.50" y1="712.50" x2="1016.50" y2="712.50" stroke="#86a9c9" stroke-width="1"/>
<rect x="1023.40" y="717.60" width="15.90" height="2.40" fill="#e32726"/>
<line x1="1031.00" y1="717.60" x2="1031.00" y2="716.00" stroke="#c98d8d" stroke-width="1"/>
<line x1="1028.00" y1="716.00" x2="1034.00" y2="716.00" stroke="#c98d8d" stroke-width="1"/>
<line x1="953.30" y1="523.50" x2="953.30" y2="721.00" stroke="#000" stroke-width="2"/>
<line x1="944.50" y1="720.00" x2="1049.00" y2="720.00" stroke="#000" stroke-width="2"/>
<line x1="944.80" y1="524.50" x2="953.30" y2="524.50" stroke="#000" stroke-width="2"/>
<text transform="translate(941.50 529.53)" font-size="16" text-anchor="end" fill="#111" stroke="#111" stroke-width="0.4">1.5</text>
<line x1="944.80" y1="589.67" x2="953.30" y2="589.67" stroke="#000" stroke-width="2"/>
<text transform="translate(941.50 594.69)" font-size="16" text-anchor="end" fill="#111" stroke="#111" stroke-width="0.4">1.0</text>
<line x1="944.80" y1="654.83" x2="953.30" y2="654.83" stroke="#000" stroke-width="2"/>
<text transform="translate(941.50 659.86)" font-size="16" text-anchor="end" fill="#111" stroke="#111" stroke-width="0.4">0.5</text>
<line x1="944.80" y1="720.00" x2="953.30" y2="720.00" stroke="#000" stroke-width="2"/>
<text transform="translate(941.50 725.03)" font-size="16" text-anchor="end" fill="#111" stroke="#111" stroke-width="0.4">0.0</text>
<circle cx="965.80" cy="632.70" r="2.3" fill="#000"/>
<circle cx="973.30" cy="631.80" r="2.3" fill="#000"/>
<circle cx="969.50" cy="664.30" r="2.3" fill="#000"/>
<circle cx="969.50" cy="694.20" r="2.3" fill="#000"/>
<circle cx="965.80" cy="720.40" r="2.3" fill="#000"/>
<circle cx="973.30" cy="720.40" r="2.3" fill="#000"/>
<circle cx="986.90" cy="572.00" r="2.3" fill="#000"/>
<circle cx="986.90" cy="609.30" r="2.3" fill="#000"/>
<circle cx="986.90" cy="614.60" r="2.3" fill="#000"/>
<circle cx="986.90" cy="632.00" r="2.3" fill="#000"/>
<circle cx="986.90" cy="638.20" r="2.3" fill="#000"/>
<circle cx="1006.50" cy="714.80" r="2.3" fill="#000"/>
<circle cx="1013.10" cy="710.30" r="2.3" fill="#000"/>
<circle cx="1006.50" cy="720.00" r="2.3" fill="#000"/>
<circle cx="1011.20" cy="718.10" r="2.3" fill="#000"/>
<circle cx="1015.90" cy="718.50" r="2.3" fill="#000"/>
<circle cx="1019.60" cy="719.00" r="2.3" fill="#000"/>
<circle cx="1023.70" cy="716.30" r="2.3" fill="#000"/>
<circle cx="1028.00" cy="715.30" r="2.3" fill="#000"/>
<circle cx="1023.70" cy="719.60" r="2.3" fill="#000"/>
<circle cx="1033.10" cy="717.20" r="2.3" fill="#000"/>
<circle cx="1037.40" cy="717.60" r="2.3" fill="#000"/>
<path d="M957.60 529.20 V525.00 Q957.60 523.40 959.20 523.40 H988.50 Q990.10 523.40 990.10 525.00 V529.20" fill="none" stroke="#111" stroke-width="1.5" stroke-linecap="round"/>
<path d="M986.90 507.00 V503.50 Q986.90 501.90 988.50 501.90 H1041.40 Q1043.00 501.90 1043.00 503.50 V507.00" fill="none" stroke="#111" stroke-width="1.5" stroke-linecap="round"/>
<path d="M1010.30 681.50 V677.30 Q1010.30 675.70 1011.90 675.70 H1041.40 Q1043.00 675.70 1043.00 677.30 V681.50" fill="none" stroke="#111" stroke-width="1.5" stroke-linecap="round"/>
<text transform="translate(986.00 517.80)" font-size="10.8" text-anchor="middle" fill="#444" stroke="#444" stroke-width="0.3">p = 0.0027</text>
<text transform="translate(1020.40 495.00)" font-size="10.6" text-anchor="middle" fill="#444" stroke="#444" stroke-width="0.3">p &lt; 0.0001</text>
<text transform="translate(1027.70 669.00)" font-size="12.7" text-anchor="middle" fill="#333" stroke="#333" stroke-width="0.3">n.s.</text>
<text transform="translate(972.40 563.00) rotate(-90)" font-size="10.8" fill="#333" stroke="#333" stroke-width="0.3" textLength="17.6" lengthAdjust="spacingAndGlyphs">n=6</text>
<text transform="translate(991.50 563.00) rotate(-90)" font-size="10.8" fill="#333" stroke="#333" stroke-width="0.3" textLength="17.6" lengthAdjust="spacingAndGlyphs">n=5</text>
<text transform="translate(1017.10 563.00) rotate(-90)" font-size="10.8" fill="#333" stroke="#333" stroke-width="0.3" textLength="17.6" lengthAdjust="spacingAndGlyphs">n=6</text>
<text transform="translate(1035.40 563.00) rotate(-90)" font-size="10.8" fill="#333" stroke="#333" stroke-width="0.3" textLength="17.6" lengthAdjust="spacingAndGlyphs">n=5</text>
<text transform="translate(973.70 737.20)" font-size="12" text-anchor="middle" fill="#444" stroke="#444" stroke-width="0.3">所属</text>
<text transform="translate(973.90 752.20)" font-size="12" text-anchor="middle" fill="#444" stroke="#444" stroke-width="0.3">リンパ節</text>
<text transform="translate(1020.10 737.20)" font-size="12" text-anchor="middle" fill="#444" stroke="#444" stroke-width="0.3">非所属</text>
<text transform="translate(1025.00 752.20)" font-size="12" text-anchor="middle" fill="#444" stroke="#444" stroke-width="0.3">リンパ節</text>
<line x1="959.80" y1="755.00" x2="996.80" y2="755.00" stroke="#333" stroke-width="1"/>
<line x1="1003.70" y1="755.00" x2="1039.30" y2="755.00" stroke="#333" stroke-width="1"/>
<line x1="969.50" y1="755.00" x2="969.50" y2="760.00" stroke="#333" stroke-width="1"/>
<line x1="986.90" y1="755.00" x2="986.90" y2="760.00" stroke="#333" stroke-width="1"/>
<line x1="1012.70" y1="755.00" x2="1012.70" y2="760.00" stroke="#333" stroke-width="1"/>
<line x1="1031.80" y1="755.00" x2="1031.80" y2="760.00" stroke="#333" stroke-width="1"/>
<text transform="translate(886.30 619.00) rotate(-90)" font-size="19.6" text-anchor="middle" fill="#111" stroke="#111" stroke-width="0.4">KikR<tspan dy="-0.34em" font-size="70%">+</tspan><tspan dy="0.238em">CD103</tspan><tspan dy="-0.34em" font-size="70%">+</tspan><tspan dy="0.238em">CD11b</tspan><tspan dy="-0.34em" font-size="70%">-</tspan></text>
<text transform="translate(910.50 620.50) rotate(-90)" font-size="19.6" text-anchor="middle" fill="#111" stroke="#111" stroke-width="0.4">樹状細胞<tspan font-style="italic">の</tspan>頻度 (%)</text>
<text transform="translate(973.00 768.50) rotate(-45)" font-size="18.7" text-anchor="end" font-style="italic" fill="#111" stroke="#111" stroke-width="0.4">P. vulgatus</text>
<text transform="translate(1000.00 769.50) rotate(-45)" font-size="19" text-anchor="end" fill="#111" stroke="#111" stroke-width="0.4">YB328</text>
<text transform="translate(1028.00 768.50) rotate(-45)" font-size="18.7" text-anchor="end" font-style="italic" fill="#111" stroke="#111" stroke-width="0.4">P. vulgatus</text>
<text transform="translate(1056.00 770.50) rotate(-45)" font-size="19" text-anchor="end" fill="#111" stroke="#111" stroke-width="0.4">YB328</text>
<rect x="1199.50" y="713.10" width="17.40" height="6.20" fill="#2e7bb8"/>
<line x1="1208.50" y1="713.10" x2="1208.50" y2="706.00" stroke="#86a9c9" stroke-width="1"/>
<line x1="1203.80" y1="706.00" x2="1213.20" y2="706.00" stroke="#86a9c9" stroke-width="1"/>
<rect x="1226.80" y="620.20" width="19.10" height="99.10" fill="#e32726"/>
<line x1="1236.50" y1="620.20" x2="1236.50" y2="578.30" stroke="#c98d8d" stroke-width="1"/>
<line x1="1231.80" y1="578.30" x2="1241.20" y2="578.30" stroke="#c98d8d" stroke-width="1"/>
<line x1="1190.20" y1="522.90" x2="1190.20" y2="720.30" stroke="#000" stroke-width="2"/>
<line x1="1181.40" y1="719.30" x2="1255.60" y2="719.30" stroke="#000" stroke-width="2"/>
<line x1="1181.70" y1="523.90" x2="1190.20" y2="523.90" stroke="#000" stroke-width="2"/>
<text transform="translate(1179.20 529.63)" font-size="16" text-anchor="end" fill="#111" stroke="#111" stroke-width="0.4">100</text>
<line x1="1181.70" y1="562.98" x2="1190.20" y2="562.98" stroke="#000" stroke-width="2"/>
<text transform="translate(1179.20 568.71)" font-size="16" text-anchor="end" fill="#111" stroke="#111" stroke-width="0.4">80</text>
<line x1="1181.70" y1="602.06" x2="1190.20" y2="602.06" stroke="#000" stroke-width="2"/>
<text transform="translate(1179.20 607.79)" font-size="16" text-anchor="end" fill="#111" stroke="#111" stroke-width="0.4">60</text>
<line x1="1181.70" y1="641.14" x2="1190.20" y2="641.14" stroke="#000" stroke-width="2"/>
<text transform="translate(1179.20 646.87)" font-size="16" text-anchor="end" fill="#111" stroke="#111" stroke-width="0.4">40</text>
<line x1="1181.70" y1="680.22" x2="1190.20" y2="680.22" stroke="#000" stroke-width="2"/>
<text transform="translate(1179.20 685.95)" font-size="16" text-anchor="end" fill="#111" stroke="#111" stroke-width="0.4">20</text>
<line x1="1181.70" y1="719.30" x2="1190.20" y2="719.30" stroke="#000" stroke-width="2"/>
<text transform="translate(1179.20 725.03)" font-size="16" text-anchor="end" fill="#111" stroke="#111" stroke-width="0.4">0</text>
<line x1="1208.10" y1="719.30" x2="1208.10" y2="726.80" stroke="#000" stroke-width="2"/>
<line x1="1236.50" y1="719.30" x2="1236.50" y2="726.80" stroke="#000" stroke-width="2"/>
<circle cx="1236.50" cy="557.80" r="3" fill="#000"/>
<circle cx="1230.40" cy="613.60" r="3" fill="#000"/>
<circle cx="1242.70" cy="613.30" r="3" fill="#000"/>
<circle cx="1230.40" cy="661.10" r="3" fill="#000"/>
<circle cx="1242.70" cy="656.10" r="3" fill="#000"/>
<circle cx="1208.50" cy="700.90" r="3" fill="#000"/>
<circle cx="1202.00" cy="710.30" r="3" fill="#000"/>
<circle cx="1205.70" cy="713.50" r="3" fill="#000"/>
<circle cx="1215.00" cy="715.00" r="3" fill="#000"/>
<circle cx="1202.00" cy="717.80" r="3" fill="#000"/>
<circle cx="1210.40" cy="716.80" r="3" fill="#000"/>
<path d="M1202.90 513.00 V508.00 Q1202.90 506.40 1204.50 506.40 H1233.40 Q1235.00 506.40 1235.00 508.00 V513.00" fill="none" stroke="#111" stroke-width="1.5" stroke-linecap="round"/>
<text transform="translate(1219.00 498.30)" font-size="10.7" text-anchor="middle" fill="#444" stroke="#444" stroke-width="0.3">p = 0.0004</text>
<text transform="translate(1219.30 474.00)" font-size="17" text-anchor="middle" fill="#222" stroke="#222" stroke-width="0.4">Tumor</text>
<text transform="translate(1210.00 542.40) rotate(-90)" font-size="10.8" fill="#333" stroke="#333" stroke-width="0.3" textLength="17.6" lengthAdjust="spacingAndGlyphs">n=6</text>
<text transform="translate(1237.40 542.40) rotate(-90)" font-size="10.8" fill="#333" stroke="#333" stroke-width="0.3" textLength="17.6" lengthAdjust="spacingAndGlyphs">n=5</text>
<text transform="translate(1121.60 620.20) rotate(-90)" font-size="19.5" text-anchor="middle" fill="#111" stroke="#111" stroke-width="0.4">KikR<tspan dy="-0.34em" font-size="70%">+</tspan><tspan dy="0.238em">CD103</tspan><tspan dy="-0.34em" font-size="70%">+</tspan><tspan dy="0.238em"> 樹状細胞</tspan></text>
<text transform="translate(1144.40 617.50) rotate(-90)" font-size="17.5" text-anchor="middle" font-style="italic" fill="#111" stroke="#111" stroke-width="0.4">/ミリグラム</text>
<text transform="translate(1216.00 738.00) rotate(-45)" font-size="18.7" text-anchor="end" font-style="italic" fill="#111" stroke="#111" stroke-width="0.4">P. vulgatus</text>
<text transform="translate(1241.30 739.00) rotate(-45)" font-size="19" text-anchor="end" fill="#111" stroke="#111" stroke-width="0.4">YB328</text>
<rect x="78.00" y="540.70" width="206.90" height="205.50" fill="#000"/>
<line x1="285.40" y1="540.70" x2="285.40" y2="746.20" stroke="#bbb" stroke-width="1"/>
<text transform="translate(84.50 557.60)" font-size="12.9" fill="#e6e6e6" stroke="#e6e6e6" stroke-width="0.1">フォトコンバージョン後の腸</text>
<text transform="translate(107.30 598.20)" font-size="14" fill="#f0f0f0" stroke="#f0f0f0" stroke-width="0.15">近位腸管</text>
<text transform="translate(220.20 703.80)" font-size="14" fill="#f0f0f0" stroke="#f0f0f0" stroke-width="0.15">遠位腸管</text>
<g filter="url(#bl1)" fill="none" stroke-linecap="round" stroke-linejoin="round">
<path d="M174.2 664.3 C174.4 662.2 174.8 655.9 175.1 651.7 C175.4 647.5 175.6 643.7 175.9 639.0 C176.2 634.4 176.4 628.5 177.0 623.6 C177.6 618.7 178.4 612.8 179.6 609.6 C180.7 606.4 182.5 604.6 184.0 604.3 C185.6 603.9 187.6 605.5 189.0 607.5 C190.3 609.6 191.4 613.0 192.2 616.6 C192.9 620.2 193.2 624.8 193.6 629.2 C194.0 633.7 194.3 638.6 194.6 643.3 C194.8 647.9 195.1 652.6 195.3 657.3 C195.4 661.9 195.4 666.6 195.5 671.3 C195.7 675.9 195.5 681.3 196.1 685.3 C196.7 689.3 197.5 693.0 198.9 695.1 C200.3 697.2 202.5 698.2 204.4 698.2 C206.2 698.1 208.2 697.0 210.0 694.8 C211.8 692.7 213.7 689.0 215.2 685.3 C216.6 681.6 217.8 677.1 218.5 672.7 C219.2 668.2 219.4 663.3 219.4 658.7 C219.3 654.0 219.0 649.3 218.2 644.7 C217.5 640.0 216.0 635.1 214.9 630.6 C213.7 626.2 212.2 621.8 211.4 618.0 C210.5 614.3 209.7 611.0 209.8 608.2 C210.0 605.5 211.0 603.0 212.4 601.5 C213.8 599.9 216.3 598.9 218.2 599.0 C220.2 599.1 222.4 600.1 223.8 602.1 C225.3 604.0 226.2 607.4 227.1 610.7 C228.0 614.1 228.5 618.0 229.2 622.2 C229.8 626.5 230.5 631.6 231.1 636.2 C231.7 640.9 232.3 645.8 232.8 650.3 C233.3 654.7 234.2 659.2 234.2 662.9 C234.3 666.5 233.9 669.5 233.1 672.0 C232.3 674.4 230.5 676.3 229.2 677.6 C227.8 678.9 225.7 679.3 225.0 679.7" stroke="#ea2024" stroke-width="6.8"/>
<path d="M195.3 657.3 C195.3 659.6 195.4 666.6 195.5 671.3 C195.7 675.9 195.5 681.3 196.1 685.3 C196.7 689.3 197.5 693.0 198.9 695.1 C200.3 697.2 202.5 698.2 204.4 698.2 C206.2 698.1 208.2 697.0 210.0 694.8 C211.8 692.7 213.7 689.0 215.2 685.3 C216.6 681.6 217.8 677.1 218.5 672.7 C219.2 668.2 219.4 663.3 219.4 658.7 C219.3 654.0 219.0 649.3 218.2 644.7 C217.5 640.0 216.0 635.1 214.9 630.6 C213.7 626.2 212.2 621.8 211.4 618.0 C210.5 614.3 209.7 611.0 209.8 608.2 C210.0 605.5 211.0 603.0 212.4 601.5 C213.8 599.9 216.3 598.9 218.2 599.0 C220.2 599.1 222.4 600.1 223.8 602.1 C225.3 604.0 226.2 607.4 227.1 610.7 C228.0 614.1 228.5 618.0 229.2 622.2 C229.8 626.5 230.5 631.6 231.1 636.2 C231.7 640.9 232.3 645.8 232.8 650.3 C233.3 654.7 234.2 659.2 234.2 662.9 C234.3 666.5 233.9 669.5 233.1 672.0 C232.3 674.4 230.5 676.3 229.2 677.6 C227.8 678.9 225.7 679.3 225.0 679.7" stroke="#f6504c" stroke-width="1.8" opacity="0.55"/>
<path d="M151.5 686.7 C151.6 687.7 151.3 691.2 152.1 693.0 C152.8 694.8 154.4 697.0 156.0 697.6 C157.6 698.2 159.9 697.5 161.6 696.5 C163.4 695.5 165.1 693.7 166.5 691.6 C168.0 689.5 169.3 686.8 170.3 683.9 C171.3 681.0 171.9 677.6 172.6 674.1 C173.2 670.6 174.0 664.7 174.2 662.9" stroke="#d8432c" stroke-width="6.2"/>
<path d="M156.0 697.6 C157.0 697.4 159.9 697.5 161.6 696.5 C163.4 695.5 165.1 693.7 166.5 691.6 C168.0 689.5 169.3 686.8 170.3 683.9 C171.3 681.0 171.9 677.6 172.6 674.1 C173.2 670.6 174.0 664.7 174.2 662.9" stroke="#c87a3a" stroke-width="2.4" opacity="0.75"/>
<path d="M174.2 664.3 C174.4 662.2 174.8 655.9 175.1 651.7 C175.4 647.5 175.6 643.7 175.9 639.0 C176.2 634.4 176.4 628.5 177.0 623.6 C177.6 618.7 178.4 612.8 179.6 609.6 C180.7 606.4 183.3 605.2 184.0 604.3" stroke="#cf5a30" stroke-width="5.4" opacity="0.9"/>
<path d="M175.9 639.0 C176.1 636.5 176.4 628.5 177.0 623.6 C177.6 618.7 178.4 612.8 179.6 609.6 C180.7 606.4 182.5 604.6 184.0 604.3 C185.6 603.9 188.1 607.0 189.0 607.5" stroke="#a8a040" stroke-width="1.8" opacity="0.7"/>
<path d="M145.5 619.4 C146.0 619.0 147.1 617.3 148.3 616.6 C149.5 615.9 151.0 615.2 152.5 615.2 C154.0 615.2 156.0 615.7 157.4 616.6 C158.8 617.6 160.2 619.2 160.9 620.8 C161.7 622.5 161.9 624.3 161.9 626.4 C161.9 628.5 161.4 630.9 160.9 633.4 C160.5 636.0 159.7 639.0 159.1 641.8 C158.5 644.7 158.0 647.2 157.4 650.3 C156.9 653.3 156.3 656.8 155.7 660.1 C155.2 663.3 154.8 666.6 154.3 669.9 C153.9 673.1 153.4 676.6 152.9 679.7 C152.5 682.7 152.0 686.7 151.8 688.1" stroke="url(#gGr)" stroke-width="3.6"/>
<path d="M145.5 619.4 C146.0 619.0 147.1 617.3 148.3 616.6 C149.5 615.9 151.0 615.2 152.5 615.2 C154.0 615.2 156.0 615.7 157.4 616.6 C158.8 617.6 160.2 619.2 160.9 620.8 C161.7 622.5 161.9 624.3 161.9 626.4 C161.9 628.5 161.1 632.3 160.9 633.4" stroke="#4fd02c" stroke-width="5.2"/>
<path d="M148.3 616.6 C149.0 616.4 151.0 615.2 152.5 615.2 C154.0 615.2 156.0 615.7 157.4 616.6 C158.8 617.6 160.2 619.2 160.9 620.8 C161.7 622.5 161.9 624.3 161.9 626.4 C161.9 628.5 161.4 630.9 160.9 633.4 C160.5 636.0 159.7 639.0 159.1 641.8 C158.5 644.7 157.7 648.9 157.4 650.3" stroke="#a8f090" stroke-width="1.4" opacity="0.8"/>
</g>
<rect x="202.60" y="596.20" width="17.00" height="17.40" fill="none" stroke="#ddd" stroke-width="1.4"/>
<path d="M211.1 596 V566.4 H290" fill="none" stroke="#fff" stroke-width="2.4"/>
<path d="M285 566.4 H292" fill="none" stroke="#000" stroke-width="2"/>
<path d="M290.5 561.6 L300.3 566.4 L290.5 571.2 Z" fill="#000"/>
<text transform="translate(85.60 725.20)" font-size="8.2" fill="#3f9a0a" stroke="#3f9a0a" stroke-width="0.2">KikG</text>
<text transform="translate(85.60 735.00)" font-size="8.2" fill="#e8e8e8" stroke="#e8e8e8" stroke-width="0.2">Excitation: 465 nm</text>
<text transform="translate(85.60 745.10)" font-size="8.2" fill="#e8e8e8" stroke="#e8e8e8" stroke-width="0.2">Emission: GFP</text>
<text transform="translate(158.60 725.20)" font-size="8.2" fill="#d01010" stroke="#d01010" stroke-width="0.2">KikR</text>
<text transform="translate(158.60 735.00)" font-size="8.2" fill="#e8e8e8" stroke="#e8e8e8" stroke-width="0.2">Excitation: 570 nm</text>
<text transform="translate(158.60 745.10)" font-size="8.2" fill="#e8e8e8" stroke="#e8e8e8" stroke-width="0.2">Emission: Cy5.5</text>
<path d="M77.6 763.6 V748.1 H195 V763.6 H141 M77.6 763.6 H100" fill="none" stroke="#d0d0d0" stroke-width="0.7"/>
<rect x="77.80" y="749.90" width="52.00" height="8.90" fill="url(#gR)" stroke="#a33" stroke-width="0.6"/>
<rect x="141.20" y="749.90" width="52.10" height="8.90" fill="url(#gG)" stroke="#2a8a2a" stroke-width="0.6"/>
<line x1="79.30" y1="759.00" x2="79.30" y2="761.80" stroke="#333" stroke-width="0.8"/>
<line x1="84.90" y1="759.00" x2="84.90" y2="761.80" stroke="#333" stroke-width="0.8"/>
<line x1="88.20" y1="759.00" x2="88.20" y2="761.80" stroke="#333" stroke-width="0.8"/>
<line x1="91.10" y1="759.00" x2="91.10" y2="761.80" stroke="#333" stroke-width="0.8"/>
<line x1="93.60" y1="759.00" x2="93.60" y2="761.80" stroke="#333" stroke-width="0.8"/>
<line x1="95.30" y1="759.00" x2="95.30" y2="761.80" stroke="#333" stroke-width="0.8"/>
<line x1="97.00" y1="759.00" x2="97.00" y2="761.80" stroke="#333" stroke-width="0.8"/>
<line x1="113.10" y1="759.00" x2="113.10" y2="761.80" stroke="#333" stroke-width="0.8"/>
<line x1="120.10" y1="759.00" x2="120.10" y2="761.80" stroke="#333" stroke-width="0.8"/>
<line x1="125.40" y1="759.00" x2="125.40" y2="761.80" stroke="#333" stroke-width="0.8"/>
<line x1="129.10" y1="759.00" x2="129.10" y2="761.80" stroke="#333" stroke-width="0.8"/>
<line x1="100.40" y1="759.00" x2="100.40" y2="763.40" stroke="#333" stroke-width="0.8"/>
<line x1="142.90" y1="759.00" x2="142.90" y2="761.80" stroke="#333" stroke-width="0.8"/>
<line x1="152.40" y1="759.00" x2="152.40" y2="761.80" stroke="#333" stroke-width="0.8"/>
<line x1="158.10" y1="759.00" x2="158.10" y2="761.80" stroke="#333" stroke-width="0.8"/>
<line x1="163.70" y1="759.00" x2="163.70" y2="761.80" stroke="#333" stroke-width="0.8"/>
<line x1="168.80" y1="759.00" x2="168.80" y2="761.80" stroke="#333" stroke-width="0.8"/>
<line x1="173.00" y1="759.00" x2="173.00" y2="761.80" stroke="#333" stroke-width="0.8"/>
<line x1="177.50" y1="759.00" x2="177.50" y2="763.40" stroke="#333" stroke-width="0.8"/>
<text transform="translate(84.90 768.70)" font-size="5.8" text-anchor="middle" fill="#555" stroke="#555" stroke-width="0.2">4</text>
<text transform="translate(95.00 768.70)" font-size="5.8" text-anchor="middle" fill="#555" stroke="#555" stroke-width="0.2">7</text>
<text transform="translate(113.60 768.70)" font-size="5.8" text-anchor="middle" fill="#555" stroke="#555" stroke-width="0.2">2</text>
<text transform="translate(126.60 768.70)" font-size="5.8" text-anchor="middle" fill="#555" stroke="#555" stroke-width="0.2">4</text>
<text transform="translate(153.10 768.70)" font-size="5.8" text-anchor="middle" fill="#555" stroke="#555" stroke-width="0.2">5</text>
<text transform="translate(164.50 768.70)" font-size="5.8" text-anchor="middle" fill="#555" stroke="#555" stroke-width="0.2">7</text>
<text transform="translate(173.80 768.70)" font-size="5.8" text-anchor="middle" fill="#555" stroke="#555" stroke-width="0.2">9</text>
<text transform="translate(97.00 772.30)" font-size="8.8" fill="#444" stroke="#444" stroke-width="0.15">10<tspan dy="-0.34em" font-size="70%">9</tspan></text>
<text transform="translate(176.50 772.30)" font-size="8.8" fill="#444" stroke="#444" stroke-width="0.15">10<tspan dy="-0.34em" font-size="70%">10</tspan></text>
<text transform="translate(202.30 758.30)" font-size="8.1" fill="#444" stroke="#444" stroke-width="0.2">Radiance (Photons)</text>
<text transform="translate(202.30 768.30)" font-size="8.1" fill="#444" stroke="#444" stroke-width="0.2">(p/sec/cm<tspan dy="-0.34em" font-size="70%">2</tspan><tspan dy="0.238em">/sr)</tspan></text>
<text transform="translate(249.30 527.30)" font-size="10.5" fill="#444" stroke="#444" stroke-width="0.1">Photoconversion:</text>
<rect x="316.20" y="533.90" width="90.60" height="89.70" fill="#fff" stroke="#aaa" stroke-width="0.7"/>
<g transform="translate(368.3 574.0) rotate(0)" fill="none" stroke="#8a8a8a" stroke-width="0.55">
<ellipse rx="21.5" ry="22.5" fill="#f1f1f1" stroke="#bbb"/>
<ellipse cx="-0.8" cy="-0.6" rx="18.5" ry="19.4"/>
<ellipse cx="-1.5" cy="-1.1" rx="15.7" ry="16.4"/>
<ellipse cx="-2.1" cy="-1.6" rx="13.1" ry="13.7"/>
<ellipse cx="-2.8" cy="-2.1" rx="10.8" ry="11.2"/>
<ellipse cx="-3.3" cy="-2.5" rx="8.6" ry="9.0"/>
<ellipse cx="-3.8" cy="-2.9" rx="6.7" ry="7.0"/>
<ellipse cx="-4.3" cy="-3.3" rx="4.7" ry="5.0"/>
<ellipse cx="-4.7" cy="-3.6" rx="2.1" ry="2.9" fill="#fff" stroke="none"/>
</g>
<line x1="353.20" y1="533.90" x2="353.20" y2="623.60" stroke="#777" stroke-width="0.9"/>
<rect x="353.20" y="583.50" width="53.60" height="40.10" fill="none" stroke="#22ad5c" stroke-width="1.6"/>
<rect x="316.20" y="533.90" width="90.60" height="49.60" fill="none" stroke="#ee2226" stroke-width="1.6"/>
<line x1="353.20" y1="534.90" x2="353.20" y2="582.50" stroke="#5a5a5a" stroke-width="1.1"/>
<text transform="translate(359.70 505.30)" font-size="13" text-anchor="middle" fill="#3a3a3a" stroke="#3a3a3a" stroke-width="0.1">腸 (KikGR)</text>
<text transform="translate(359.70 520.80)" font-size="13" text-anchor="middle" fill="#3a3a3a" stroke="#3a3a3a" stroke-width="0.1">後</text>
<text transform="translate(322.80 547.30)" font-size="10.3" fill="#444" stroke="#444" stroke-width="0.15">0.6</text>
<text transform="translate(401.80 547.30)" font-size="10.3" text-anchor="end" fill="#444" stroke="#444" stroke-width="0.15">85.1</text>
<text transform="translate(403.80 621.40)" font-size="10.3" text-anchor="end" fill="#444" stroke="#444" stroke-width="0.15">11.9</text>
<text transform="translate(312.90 562.61)" font-size="5" text-anchor="end" font-weight="bold" fill="#222">10<tspan dy="-0.34em" font-size="70%">3</tspan></text>
<line x1="314.00" y1="560.81" x2="316.20" y2="560.81" stroke="#555" stroke-width="0.6"/>
<text transform="translate(312.90 593.11)" font-size="5" text-anchor="end" font-weight="bold" fill="#222">10<tspan dy="-0.34em" font-size="70%">2</tspan></text>
<line x1="314.00" y1="591.31" x2="316.20" y2="591.31" stroke="#555" stroke-width="0.6"/>
<text transform="translate(312.90 605.22)" font-size="5" text-anchor="end" font-weight="bold" fill="#222">0</text>
<line x1="314.00" y1="603.42" x2="316.20" y2="603.42" stroke="#555" stroke-width="0.6"/>
<text transform="translate(312.90 617.78)" font-size="5" text-anchor="end" font-weight="bold" fill="#222">-10<tspan dy="-0.34em" font-size="70%">2</tspan></text>
<line x1="314.00" y1="615.98" x2="316.20" y2="615.98" stroke="#555" stroke-width="0.6"/>
<text transform="translate(338.85 633.60)" font-size="5" text-anchor="middle" font-weight="bold" fill="#222">0</text>
<line x1="338.85" y1="623.60" x2="338.85" y2="625.80" stroke="#555" stroke-width="0.6"/>
<text transform="translate(379.62 633.60)" font-size="5" text-anchor="middle" font-weight="bold" fill="#222">10<tspan dy="-0.34em" font-size="70%">3</tspan></text>
<line x1="379.62" y1="623.60" x2="379.62" y2="625.80" stroke="#555" stroke-width="0.6"/>
<text transform="translate(402.72 633.60)" font-size="5" text-anchor="middle" font-weight="bold" fill="#222">10<tspan dy="-0.34em" font-size="70%">4</tspan></text>
<line x1="402.72" y1="623.60" x2="402.72" y2="625.80" stroke="#555" stroke-width="0.6"/>
<line x1="327.07" y1="623.60" x2="327.07" y2="625.00" stroke="#777" stroke-width="0.5"/>
<line x1="331.60" y1="623.60" x2="331.60" y2="625.00" stroke="#777" stroke-width="0.5"/>
<line x1="335.23" y1="623.60" x2="335.23" y2="625.00" stroke="#777" stroke-width="0.5"/>
<line x1="342.47" y1="623.60" x2="342.47" y2="625.00" stroke="#777" stroke-width="0.5"/>
<line x1="346.10" y1="623.60" x2="346.10" y2="625.00" stroke="#777" stroke-width="0.5"/>
<line x1="350.63" y1="623.60" x2="350.63" y2="625.00" stroke="#777" stroke-width="0.5"/>
<line x1="361.50" y1="623.60" x2="361.50" y2="625.00" stroke="#777" stroke-width="0.5"/>
<line x1="368.75" y1="623.60" x2="368.75" y2="625.00" stroke="#777" stroke-width="0.5"/>
<line x1="373.28" y1="623.60" x2="373.28" y2="625.00" stroke="#777" stroke-width="0.5"/>
<line x1="376.90" y1="623.60" x2="376.90" y2="625.00" stroke="#777" stroke-width="0.5"/>
<line x1="394.12" y1="623.60" x2="394.12" y2="625.00" stroke="#777" stroke-width="0.5"/>
<line x1="397.74" y1="623.60" x2="397.74" y2="625.00" stroke="#777" stroke-width="0.5"/>
<line x1="400.46" y1="623.60" x2="400.46" y2="625.00" stroke="#777" stroke-width="0.5"/>
<rect x="425.00" y="533.90" width="90.20" height="89.70" fill="#fff" stroke="#aaa" stroke-width="0.7"/>
<g transform="translate(479.5 596.5) rotate(0)" fill="none" stroke="#8a8a8a" stroke-width="0.55">
<ellipse rx="14.8" ry="17.5" fill="#f1f1f1" stroke="#bbb"/>
<ellipse cx="-0.2" cy="-0.1" rx="12.7" ry="15.0"/>
<ellipse cx="-0.3" cy="-0.2" rx="10.8" ry="12.8"/>
<ellipse cx="-0.5" cy="-0.3" rx="9.0" ry="10.7"/>
<ellipse cx="-0.6" cy="-0.4" rx="7.4" ry="8.8"/>
<ellipse cx="-0.7" cy="-0.5" rx="5.9" ry="7.0"/>
<ellipse cx="-0.8" cy="-0.6" rx="4.6" ry="5.4"/>
<ellipse cx="-0.9" cy="-0.7" rx="3.3" ry="3.9"/>
<ellipse cx="-1.0" cy="-0.7" rx="1.5" ry="2.3" fill="#fff" stroke="none"/>
</g>
<line x1="462.20" y1="533.90" x2="462.20" y2="623.60" stroke="#777" stroke-width="0.9"/>
<rect x="462.20" y="583.20" width="53.00" height="40.40" fill="none" stroke="#22ad5c" stroke-width="1.6"/>
<rect x="425.00" y="533.90" width="90.20" height="49.30" fill="none" stroke="#ee2226" stroke-width="1.6"/>
<line x1="462.20" y1="534.90" x2="462.20" y2="582.20" stroke="#5a5a5a" stroke-width="1.1"/>
<text transform="translate(472.80 505.30)" font-size="13" text-anchor="middle" fill="#3a3a3a" stroke="#3a3a3a" stroke-width="0.1">腸 (KikGR)</text>
<text transform="translate(472.80 520.80)" font-size="13" text-anchor="middle" fill="#3a3a3a" stroke="#3a3a3a" stroke-width="0.1">前</text>
<text transform="translate(431.60 547.30)" font-size="10.3" fill="#444" stroke="#444" stroke-width="0.15">0.0</text>
<text transform="translate(510.20 547.30)" font-size="10.3" text-anchor="end" fill="#444" stroke="#444" stroke-width="0.15">3.4</text>
<text transform="translate(512.20 621.40)" font-size="10.3" text-anchor="end" fill="#444" stroke="#444" stroke-width="0.15">94.9</text>
<text transform="translate(421.70 562.61)" font-size="5" text-anchor="end" font-weight="bold" fill="#222">10<tspan dy="-0.34em" font-size="70%">3</tspan></text>
<line x1="422.80" y1="560.81" x2="425.00" y2="560.81" stroke="#555" stroke-width="0.6"/>
<text transform="translate(421.70 593.11)" font-size="5" text-anchor="end" font-weight="bold" fill="#222">10<tspan dy="-0.34em" font-size="70%">2</tspan></text>
<line x1="422.80" y1="591.31" x2="425.00" y2="591.31" stroke="#555" stroke-width="0.6"/>
<text transform="translate(421.70 605.22)" font-size="5" text-anchor="end" font-weight="bold" fill="#222">0</text>
<line x1="422.80" y1="603.42" x2="425.00" y2="603.42" stroke="#555" stroke-width="0.6"/>
<text transform="translate(421.70 617.78)" font-size="5" text-anchor="end" font-weight="bold" fill="#222">-10<tspan dy="-0.34em" font-size="70%">2</tspan></text>
<line x1="422.80" y1="615.98" x2="425.00" y2="615.98" stroke="#555" stroke-width="0.6"/>
<text transform="translate(447.55 633.60)" font-size="5" text-anchor="middle" font-weight="bold" fill="#222">0</text>
<line x1="447.55" y1="623.60" x2="447.55" y2="625.80" stroke="#555" stroke-width="0.6"/>
<text transform="translate(488.14 633.60)" font-size="5" text-anchor="middle" font-weight="bold" fill="#222">10<tspan dy="-0.34em" font-size="70%">3</tspan></text>
<line x1="488.14" y1="623.60" x2="488.14" y2="625.80" stroke="#555" stroke-width="0.6"/>
<text transform="translate(511.14 633.60)" font-size="5" text-anchor="middle" font-weight="bold" fill="#222">10<tspan dy="-0.34em" font-size="70%">4</tspan></text>
<line x1="511.14" y1="623.60" x2="511.14" y2="625.80" stroke="#555" stroke-width="0.6"/>
<line x1="435.82" y1="623.60" x2="435.82" y2="625.00" stroke="#777" stroke-width="0.5"/>
<line x1="440.33" y1="623.60" x2="440.33" y2="625.00" stroke="#777" stroke-width="0.5"/>
<line x1="443.94" y1="623.60" x2="443.94" y2="625.00" stroke="#777" stroke-width="0.5"/>
<line x1="451.16" y1="623.60" x2="451.16" y2="625.00" stroke="#777" stroke-width="0.5"/>
<line x1="454.77" y1="623.60" x2="454.77" y2="625.00" stroke="#777" stroke-width="0.5"/>
<line x1="459.28" y1="623.60" x2="459.28" y2="625.00" stroke="#777" stroke-width="0.5"/>
<line x1="470.10" y1="623.60" x2="470.10" y2="625.00" stroke="#777" stroke-width="0.5"/>
<line x1="477.32" y1="623.60" x2="477.32" y2="625.00" stroke="#777" stroke-width="0.5"/>
<line x1="481.83" y1="623.60" x2="481.83" y2="625.00" stroke="#777" stroke-width="0.5"/>
<line x1="485.43" y1="623.60" x2="485.43" y2="625.00" stroke="#777" stroke-width="0.5"/>
<line x1="502.57" y1="623.60" x2="502.57" y2="625.00" stroke="#777" stroke-width="0.5"/>
<line x1="506.18" y1="623.60" x2="506.18" y2="625.00" stroke="#777" stroke-width="0.5"/>
<line x1="508.89" y1="623.60" x2="508.89" y2="625.00" stroke="#777" stroke-width="0.5"/>
<rect x="317.30" y="656.20" width="91.20" height="90.20" fill="#fff" stroke="#aaa" stroke-width="0.7"/>
<g transform="translate(344.3 721.3) rotate(12)" fill="none" stroke="#8a8a8a" stroke-width="0.55">
<ellipse rx="9.4" ry="14.0" fill="#f1f1f1" stroke="#bbb"/>
<ellipse cx="-0.1" cy="-0.1" rx="8.1" ry="12.0"/>
<ellipse cx="-0.2" cy="-0.2" rx="6.9" ry="10.2"/>
<ellipse cx="-0.3" cy="-0.3" rx="5.7" ry="8.5"/>
<ellipse cx="-0.4" cy="-0.4" rx="4.7" ry="7.0"/>
<ellipse cx="-0.5" cy="-0.4" rx="3.8" ry="5.6"/>
<ellipse cx="-0.5" cy="-0.5" rx="2.9" ry="4.3"/>
<ellipse cx="-0.6" cy="-0.5" rx="2.1" ry="3.1"/>
<ellipse cx="-0.6" cy="-0.6" rx="0.9" ry="1.8" fill="#fff" stroke="none"/>
</g>
<line x1="354.80" y1="656.20" x2="354.80" y2="746.40" stroke="#777" stroke-width="0.9"/>
<rect x="354.80" y="705.90" width="53.70" height="40.50" fill="none" stroke="#22ad5c" stroke-width="1.6"/>
<rect x="317.30" y="656.20" width="91.20" height="49.70" fill="none" stroke="#ee2226" stroke-width="1.6"/>
<line x1="354.80" y1="657.20" x2="354.80" y2="704.90" stroke="#5a5a5a" stroke-width="1.1"/>
<text transform="translate(362.80 652.00)" font-size="13" text-anchor="middle" fill="#3a3a3a" stroke="#3a3a3a" stroke-width="0.1">腸 (野生型)</text>
<text transform="translate(323.90 669.60)" font-size="10.3" fill="#444" stroke="#444" stroke-width="0.15">0.6</text>
<text transform="translate(403.50 669.60)" font-size="10.3" text-anchor="end" fill="#444" stroke="#444" stroke-width="0.15">0.6</text>
<text transform="translate(405.50 744.20)" font-size="10.3" text-anchor="end" fill="#444" stroke="#444" stroke-width="0.15">1.9</text>
<text transform="translate(314.00 685.06)" font-size="5" text-anchor="end" font-weight="bold" fill="#222">10<tspan dy="-0.34em" font-size="70%">3</tspan></text>
<line x1="315.10" y1="683.26" x2="317.30" y2="683.26" stroke="#555" stroke-width="0.6"/>
<text transform="translate(314.00 715.73)" font-size="5" text-anchor="end" font-weight="bold" fill="#222">10<tspan dy="-0.34em" font-size="70%">2</tspan></text>
<line x1="315.10" y1="713.93" x2="317.30" y2="713.93" stroke="#555" stroke-width="0.6"/>
<text transform="translate(314.00 727.90)" font-size="5" text-anchor="end" font-weight="bold" fill="#222">0</text>
<line x1="315.10" y1="726.11" x2="317.30" y2="726.11" stroke="#555" stroke-width="0.6"/>
<text transform="translate(314.00 740.53)" font-size="5" text-anchor="end" font-weight="bold" fill="#222">-10<tspan dy="-0.34em" font-size="70%">2</tspan></text>
<line x1="315.10" y1="738.73" x2="317.30" y2="738.73" stroke="#555" stroke-width="0.6"/>
<text transform="translate(340.10 756.40)" font-size="5" text-anchor="middle" font-weight="bold" fill="#222">0</text>
<line x1="340.10" y1="746.40" x2="340.10" y2="748.60" stroke="#555" stroke-width="0.6"/>
<text transform="translate(381.14 756.40)" font-size="5" text-anchor="middle" font-weight="bold" fill="#222">10<tspan dy="-0.34em" font-size="70%">3</tspan></text>
<line x1="381.14" y1="746.40" x2="381.14" y2="748.60" stroke="#555" stroke-width="0.6"/>
<text transform="translate(404.40 756.40)" font-size="5" text-anchor="middle" font-weight="bold" fill="#222">10<tspan dy="-0.34em" font-size="70%">4</tspan></text>
<line x1="404.40" y1="746.40" x2="404.40" y2="748.60" stroke="#555" stroke-width="0.6"/>
<line x1="328.24" y1="746.40" x2="328.24" y2="747.80" stroke="#777" stroke-width="0.5"/>
<line x1="332.80" y1="746.40" x2="332.80" y2="747.80" stroke="#777" stroke-width="0.5"/>
<line x1="336.45" y1="746.40" x2="336.45" y2="747.80" stroke="#777" stroke-width="0.5"/>
<line x1="343.75" y1="746.40" x2="343.75" y2="747.80" stroke="#777" stroke-width="0.5"/>
<line x1="347.40" y1="746.40" x2="347.40" y2="747.80" stroke="#777" stroke-width="0.5"/>
<line x1="351.96" y1="746.40" x2="351.96" y2="747.80" stroke="#777" stroke-width="0.5"/>
<line x1="362.90" y1="746.40" x2="362.90" y2="747.80" stroke="#777" stroke-width="0.5"/>
<line x1="370.20" y1="746.40" x2="370.20" y2="747.80" stroke="#777" stroke-width="0.5"/>
<line x1="374.76" y1="746.40" x2="374.76" y2="747.80" stroke="#777" stroke-width="0.5"/>
<line x1="378.40" y1="746.40" x2="378.40" y2="747.80" stroke="#777" stroke-width="0.5"/>
<line x1="395.73" y1="746.40" x2="395.73" y2="747.80" stroke="#777" stroke-width="0.5"/>
<line x1="399.38" y1="746.40" x2="399.38" y2="747.80" stroke="#777" stroke-width="0.5"/>
<line x1="402.12" y1="746.40" x2="402.12" y2="747.80" stroke="#777" stroke-width="0.5"/>
<circle cx="361.3" cy="693.9" r="0.42" fill="#888"/>
<circle cx="373.8" cy="677.0" r="0.42" fill="#888"/>
<circle cx="339.7" cy="719.7" r="0.42" fill="#888"/>
<circle cx="363.8" cy="698.2" r="0.42" fill="#888"/>
<circle cx="356.6" cy="711.0" r="0.42" fill="#888"/>
<circle cx="362.2" cy="702.6" r="0.42" fill="#888"/>
<circle cx="356.1" cy="709.6" r="0.42" fill="#888"/>
<circle cx="349.4" cy="713.8" r="0.42" fill="#888"/>
<circle cx="361.6" cy="700.7" r="0.42" fill="#888"/>
<circle cx="371.8" cy="691.2" r="0.42" fill="#888"/>
<circle cx="377.8" cy="680.8" r="0.42" fill="#888"/>
<circle cx="370.4" cy="682.8" r="0.42" fill="#888"/>
<circle cx="354.3" cy="712.7" r="0.42" fill="#888"/>
<circle cx="377.4" cy="682.0" r="0.42" fill="#888"/>
<circle cx="354.4" cy="711.9" r="0.42" fill="#888"/>
<circle cx="346.1" cy="722.0" r="0.42" fill="#888"/>
<circle cx="345.7" cy="715.1" r="0.42" fill="#888"/>
<circle cx="353.7" cy="708.0" r="0.42" fill="#888"/>
<circle cx="347.3" cy="712.3" r="0.42" fill="#888"/>
<circle cx="348.1" cy="717.4" r="0.42" fill="#888"/>
<circle cx="366.7" cy="694.1" r="0.42" fill="#888"/>
<circle cx="365.0" cy="696.4" r="0.42" fill="#888"/>
<circle cx="349.0" cy="718.6" r="0.42" fill="#888"/>
<circle cx="376.6" cy="690.1" r="0.42" fill="#888"/>
<circle cx="376.4" cy="684.6" r="0.42" fill="#888"/>
<circle cx="347.8" cy="709.4" r="0.42" fill="#888"/>
<circle cx="348.0" cy="710.3" r="0.42" fill="#888"/>
<circle cx="378.2" cy="691.3" r="0.42" fill="#888"/>
<circle cx="345.4" cy="721.2" r="0.42" fill="#888"/>
<circle cx="369.3" cy="693.3" r="0.42" fill="#888"/>
<circle cx="357.9" cy="706.4" r="0.42" fill="#888"/>
<circle cx="350.8" cy="716.3" r="0.42" fill="#888"/>
<circle cx="365.9" cy="697.4" r="0.42" fill="#888"/>
<circle cx="351.3" cy="717.2" r="0.42" fill="#888"/>
<circle cx="355.0" cy="713.5" r="0.42" fill="#888"/>
<circle cx="366.1" cy="692.0" r="0.42" fill="#888"/>
<circle cx="348.1" cy="717.1" r="0.42" fill="#888"/>
<circle cx="358.2" cy="703.9" r="0.42" fill="#888"/>
<circle cx="369.9" cy="693.9" r="0.42" fill="#888"/>
<circle cx="370.5" cy="695.2" r="0.42" fill="#888"/>
<circle cx="350.2" cy="713.4" r="0.42" fill="#888"/>
<circle cx="362.3" cy="707.0" r="0.42" fill="#888"/>
<circle cx="372.1" cy="684.5" r="0.42" fill="#888"/>
<circle cx="362.9" cy="696.0" r="0.42" fill="#888"/>
<circle cx="356.5" cy="711.6" r="0.42" fill="#888"/>
<circle cx="380.6" cy="681.4" r="0.42" fill="#888"/>
<circle cx="356.8" cy="706.6" r="0.42" fill="#888"/>
<circle cx="352.5" cy="705.8" r="0.42" fill="#888"/>
<circle cx="354.7" cy="704.1" r="0.42" fill="#888"/>
<circle cx="361.4" cy="692.0" r="0.42" fill="#888"/>
<circle cx="352.8" cy="707.3" r="0.42" fill="#888"/>
<circle cx="357.7" cy="700.4" r="0.42" fill="#888"/>
<circle cx="356.1" cy="710.5" r="0.42" fill="#888"/>
<circle cx="364.2" cy="702.4" r="0.42" fill="#888"/>
<circle cx="349.0" cy="709.9" r="0.42" fill="#888"/>
<circle cx="365.5" cy="686.3" r="0.42" fill="#888"/>
<circle cx="349.9" cy="706.0" r="0.42" fill="#888"/>
<circle cx="365.8" cy="696.5" r="0.42" fill="#888"/>
<circle cx="367.8" cy="679.7" r="0.42" fill="#888"/>
<circle cx="370.9" cy="683.9" r="0.42" fill="#888"/>
<circle cx="353.3" cy="733.9" r="0.42" fill="#999"/>
<circle cx="348.7" cy="714.9" r="0.42" fill="#999"/>
<circle cx="335.5" cy="710.3" r="0.42" fill="#999"/>
<circle cx="341.0" cy="716.7" r="0.42" fill="#999"/>
<circle cx="341.4" cy="709.6" r="0.42" fill="#999"/>
<circle cx="337.3" cy="715.5" r="0.42" fill="#999"/>
<circle cx="332.0" cy="714.8" r="0.42" fill="#999"/>
<circle cx="333.2" cy="714.2" r="0.42" fill="#999"/>
<circle cx="347.0" cy="721.2" r="0.42" fill="#999"/>
<circle cx="335.5" cy="730.8" r="0.42" fill="#999"/>
<circle cx="348.6" cy="734.6" r="0.42" fill="#999"/>
<circle cx="341.2" cy="720.7" r="0.42" fill="#999"/>
<circle cx="338.7" cy="725.3" r="0.42" fill="#999"/>
<circle cx="346.7" cy="722.1" r="0.42" fill="#999"/>
<circle cx="342.8" cy="728.0" r="0.42" fill="#999"/>
<circle cx="344.2" cy="724.0" r="0.42" fill="#999"/>
<circle cx="337.3" cy="726.8" r="0.42" fill="#999"/>
<circle cx="334.2" cy="717.3" r="0.42" fill="#999"/>
<circle cx="349.5" cy="740.9" r="0.42" fill="#999"/>
<circle cx="349.6" cy="719.0" r="0.42" fill="#999"/>
<circle cx="344.3" cy="731.6" r="0.42" fill="#999"/>
<circle cx="355.3" cy="729.0" r="0.42" fill="#999"/>
<circle cx="342.2" cy="724.3" r="0.42" fill="#999"/>
<circle cx="340.1" cy="720.4" r="0.42" fill="#999"/>
<circle cx="336.7" cy="722.3" r="0.42" fill="#999"/>
<circle cx="325.6" cy="717.6" r="0.42" fill="#999"/>
<circle cx="343.5" cy="712.2" r="0.42" fill="#999"/>
<circle cx="343.3" cy="708.4" r="0.42" fill="#999"/>
<circle cx="341.6" cy="726.8" r="0.42" fill="#999"/>
<circle cx="334.3" cy="718.6" r="0.42" fill="#999"/>
<circle cx="357.7" cy="708.1" r="0.42" fill="#999"/>
<circle cx="336.8" cy="718.9" r="0.42" fill="#999"/>
<circle cx="343.2" cy="721.7" r="0.42" fill="#999"/>
<circle cx="351.6" cy="726.3" r="0.42" fill="#999"/>
<circle cx="339.4" cy="720.0" r="0.42" fill="#999"/>
<circle cx="329.8" cy="712.6" r="0.42" fill="#999"/>
<circle cx="340.0" cy="731.0" r="0.42" fill="#999"/>
<circle cx="345.9" cy="729.0" r="0.42" fill="#999"/>
<circle cx="348.8" cy="717.6" r="0.42" fill="#999"/>
<circle cx="355.6" cy="710.7" r="0.42" fill="#999"/>
<circle cx="337.7" cy="720.0" r="0.42" fill="#999"/>
<circle cx="350.2" cy="717.3" r="0.42" fill="#999"/>
<circle cx="339.2" cy="728.3" r="0.42" fill="#999"/>
<circle cx="350.2" cy="717.5" r="0.42" fill="#999"/>
<circle cx="344.1" cy="732.8" r="0.42" fill="#999"/>
<circle cx="351.9" cy="727.7" r="0.42" fill="#999"/>
<circle cx="338.6" cy="726.9" r="0.42" fill="#999"/>
<circle cx="340.8" cy="704.4" r="0.42" fill="#999"/>
<circle cx="351.2" cy="719.2" r="0.42" fill="#999"/>
<circle cx="346.5" cy="743.9" r="0.42" fill="#999"/>
<circle cx="342.1" cy="714.9" r="0.42" fill="#999"/>
<circle cx="344.0" cy="727.4" r="0.42" fill="#999"/>
<circle cx="348.3" cy="719.0" r="0.42" fill="#999"/>
<circle cx="335.5" cy="718.2" r="0.42" fill="#999"/>
<circle cx="334.9" cy="714.8" r="0.42" fill="#999"/>
<circle cx="341.6" cy="717.6" r="0.42" fill="#999"/>
<circle cx="341.2" cy="714.2" r="0.42" fill="#999"/>
<circle cx="336.8" cy="723.0" r="0.42" fill="#999"/>
<circle cx="343.6" cy="733.7" r="0.42" fill="#999"/>
<circle cx="337.5" cy="726.7" r="0.42" fill="#999"/>
<circle cx="339.4" cy="710.1" r="0.42" fill="#999"/>
<circle cx="348.3" cy="721.3" r="0.42" fill="#999"/>
<circle cx="330.6" cy="734.0" r="0.42" fill="#999"/>
<circle cx="347.2" cy="711.8" r="0.42" fill="#999"/>
<circle cx="354.6" cy="718.2" r="0.42" fill="#999"/>
<circle cx="336.8" cy="730.7" r="0.42" fill="#999"/>
<circle cx="337.2" cy="710.8" r="0.42" fill="#999"/>
<circle cx="329.4" cy="730.8" r="0.42" fill="#999"/>
<circle cx="339.8" cy="730.2" r="0.42" fill="#999"/>
<circle cx="344.2" cy="716.0" r="0.42" fill="#999"/>
<circle cx="344.0" cy="739.9" r="0.42" fill="#999"/>
<circle cx="356.2" cy="723.7" r="0.42" fill="#999"/>
<circle cx="338.1" cy="714.1" r="0.42" fill="#999"/>
<circle cx="344.7" cy="738.5" r="0.42" fill="#999"/>
<circle cx="345.3" cy="717.9" r="0.42" fill="#999"/>
<circle cx="335.3" cy="727.3" r="0.42" fill="#999"/>
<circle cx="337.2" cy="724.8" r="0.42" fill="#999"/>
<circle cx="350.6" cy="729.6" r="0.42" fill="#999"/>
<circle cx="343.1" cy="718.4" r="0.42" fill="#999"/>
<circle cx="349.1" cy="737.8" r="0.42" fill="#999"/>
<circle cx="341.9" cy="708.0" r="0.42" fill="#999"/>
<circle cx="353.9" cy="719.6" r="0.42" fill="#999"/>
<circle cx="364.8" cy="707.1" r="0.42" fill="#999"/>
<circle cx="341.6" cy="719.6" r="0.42" fill="#999"/>
<circle cx="344.0" cy="715.5" r="0.42" fill="#999"/>
<circle cx="328.3" cy="708.9" r="0.42" fill="#999"/>
<circle cx="340.9" cy="717.7" r="0.42" fill="#999"/>
<circle cx="344.6" cy="743.2" r="0.42" fill="#999"/>
<circle cx="351.0" cy="729.6" r="0.42" fill="#999"/>
<circle cx="340.5" cy="726.3" r="0.42" fill="#999"/>
<circle cx="341.1" cy="720.8" r="0.42" fill="#999"/>
<circle cx="349.5" cy="725.2" r="0.42" fill="#999"/>
<circle cx="345.4" cy="722.4" r="0.42" fill="#999"/>
<circle cx="331.6" cy="719.6" r="0.42" fill="#999"/>
<circle cx="344.6" cy="717.5" r="0.42" fill="#999"/>
<circle cx="338.8" cy="727.6" r="0.42" fill="#999"/>
<circle cx="335.2" cy="718.7" r="0.42" fill="#999"/>
<circle cx="347.9" cy="716.0" r="0.42" fill="#999"/>
<circle cx="353.8" cy="722.4" r="0.42" fill="#999"/>
<circle cx="351.2" cy="729.9" r="0.42" fill="#999"/>
<circle cx="328.5" cy="727.9" r="0.42" fill="#999"/>
<circle cx="333.3" cy="721.7" r="0.42" fill="#999"/>
<circle cx="345.5" cy="733.7" r="0.42" fill="#999"/>
<circle cx="346.9" cy="737.1" r="0.42" fill="#999"/>
<circle cx="339.4" cy="723.1" r="0.42" fill="#999"/>
<circle cx="346.0" cy="730.3" r="0.42" fill="#999"/>
<circle cx="341.1" cy="716.5" r="0.42" fill="#999"/>
<circle cx="337.3" cy="710.2" r="0.42" fill="#999"/>
<circle cx="353.2" cy="725.0" r="0.42" fill="#999"/>
<circle cx="346.5" cy="723.2" r="0.42" fill="#999"/>
<circle cx="357.6" cy="565.6" r="0.4" fill="#aaa"/>
<circle cx="381.9" cy="558.6" r="0.4" fill="#aaa"/>
<circle cx="354.5" cy="601.8" r="0.4" fill="#aaa"/>
<circle cx="394.9" cy="578.3" r="0.4" fill="#aaa"/>
<circle cx="377.2" cy="576.4" r="0.4" fill="#aaa"/>
<circle cx="392.5" cy="564.9" r="0.4" fill="#aaa"/>
<circle cx="369.4" cy="581.8" r="0.4" fill="#aaa"/>
<circle cx="392.8" cy="568.5" r="0.4" fill="#aaa"/>
<circle cx="372.0" cy="564.1" r="0.4" fill="#aaa"/>
<circle cx="356.7" cy="561.1" r="0.4" fill="#aaa"/>
<circle cx="369.4" cy="589.1" r="0.4" fill="#aaa"/>
<circle cx="356.1" cy="562.1" r="0.4" fill="#aaa"/>
<circle cx="361.1" cy="579.4" r="0.4" fill="#aaa"/>
<circle cx="380.0" cy="550.3" r="0.4" fill="#aaa"/>
<circle cx="374.1" cy="554.9" r="0.4" fill="#aaa"/>
<circle cx="380.2" cy="555.5" r="0.4" fill="#aaa"/>
<circle cx="349.5" cy="560.1" r="0.4" fill="#aaa"/>
<circle cx="366.9" cy="555.0" r="0.4" fill="#aaa"/>
<circle cx="371.6" cy="575.7" r="0.4" fill="#aaa"/>
<circle cx="369.4" cy="577.9" r="0.4" fill="#aaa"/>
<circle cx="382.9" cy="559.8" r="0.4" fill="#aaa"/>
<circle cx="368.0" cy="572.5" r="0.4" fill="#aaa"/>
<circle cx="332.9" cy="580.0" r="0.4" fill="#aaa"/>
<circle cx="354.8" cy="560.0" r="0.4" fill="#aaa"/>
<circle cx="360.4" cy="574.8" r="0.4" fill="#aaa"/>
<circle cx="373.6" cy="581.8" r="0.4" fill="#aaa"/>
<circle cx="356.2" cy="585.6" r="0.4" fill="#aaa"/>
<circle cx="375.1" cy="565.9" r="0.4" fill="#aaa"/>
<circle cx="367.6" cy="587.5" r="0.4" fill="#aaa"/>
<circle cx="375.4" cy="585.6" r="0.4" fill="#aaa"/>
<circle cx="369.8" cy="593.6" r="0.4" fill="#aaa"/>
<circle cx="405.9" cy="581.2" r="0.4" fill="#aaa"/>
<circle cx="340.8" cy="604.1" r="0.4" fill="#aaa"/>
<circle cx="358.3" cy="548.1" r="0.4" fill="#aaa"/>
<circle cx="327.6" cy="580.7" r="0.4" fill="#aaa"/>
<circle cx="386.6" cy="591.1" r="0.4" fill="#aaa"/>
<circle cx="361.5" cy="599.1" r="0.4" fill="#aaa"/>
<circle cx="366.7" cy="562.3" r="0.4" fill="#aaa"/>
<circle cx="369.2" cy="576.9" r="0.4" fill="#aaa"/>
<circle cx="368.8" cy="580.2" r="0.4" fill="#aaa"/>
<circle cx="330.7" cy="601.3" r="0.4" fill="#aaa"/>
<circle cx="358.3" cy="584.7" r="0.4" fill="#aaa"/>
<circle cx="354.4" cy="575.9" r="0.4" fill="#aaa"/>
<circle cx="365.0" cy="544.5" r="0.4" fill="#aaa"/>
<circle cx="374.5" cy="584.4" r="0.4" fill="#aaa"/>
<circle cx="465.5" cy="567.6" r="0.4" fill="#aaa"/>
<circle cx="471.6" cy="585.2" r="0.4" fill="#aaa"/>
<circle cx="481.4" cy="596.8" r="0.4" fill="#aaa"/>
<circle cx="501.0" cy="606.1" r="0.4" fill="#aaa"/>
<circle cx="476.7" cy="599.3" r="0.4" fill="#aaa"/>
<circle cx="442.5" cy="584.3" r="0.4" fill="#aaa"/>
<circle cx="468.0" cy="595.5" r="0.4" fill="#aaa"/>
<circle cx="484.2" cy="600.0" r="0.4" fill="#aaa"/>
<circle cx="492.2" cy="587.3" r="0.4" fill="#aaa"/>
<circle cx="484.0" cy="595.2" r="0.4" fill="#aaa"/>
<circle cx="480.2" cy="601.5" r="0.4" fill="#aaa"/>
<circle cx="476.3" cy="600.0" r="0.4" fill="#aaa"/>
<circle cx="479.5" cy="611.3" r="0.4" fill="#aaa"/>
<circle cx="478.5" cy="601.3" r="0.4" fill="#aaa"/>
<circle cx="513.7" cy="605.7" r="0.4" fill="#aaa"/>
<circle cx="486.7" cy="612.1" r="0.4" fill="#aaa"/>
<circle cx="466.9" cy="606.9" r="0.4" fill="#aaa"/>
<circle cx="489.7" cy="603.1" r="0.4" fill="#aaa"/>
<circle cx="492.6" cy="608.0" r="0.4" fill="#aaa"/>
<circle cx="495.5" cy="588.0" r="0.4" fill="#aaa"/>
<circle cx="485.6" cy="589.4" r="0.4" fill="#aaa"/>
<circle cx="496.1" cy="598.9" r="0.4" fill="#aaa"/>
<circle cx="463.1" cy="598.5" r="0.4" fill="#aaa"/>
<circle cx="467.0" cy="610.7" r="0.4" fill="#aaa"/>
<circle cx="475.6" cy="566.4" r="0.4" fill="#aaa"/>
<circle cx="475.0" cy="611.3" r="0.4" fill="#aaa"/>
<circle cx="484.3" cy="588.2" r="0.4" fill="#aaa"/>
<circle cx="488.4" cy="605.0" r="0.4" fill="#aaa"/>
<circle cx="499.1" cy="609.6" r="0.4" fill="#aaa"/>
<circle cx="484.8" cy="586.0" r="0.4" fill="#aaa"/>
<circle cx="483.7" cy="601.2" r="0.4" fill="#aaa"/>
<circle cx="480.2" cy="602.9" r="0.4" fill="#aaa"/>
<circle cx="464.6" cy="605.0" r="0.4" fill="#aaa"/>
<circle cx="480.1" cy="602.0" r="0.4" fill="#aaa"/>
<circle cx="478.8" cy="592.8" r="0.4" fill="#aaa"/>
<circle cx="483.3" cy="607.9" r="0.4" fill="#aaa"/>
<circle cx="475.8" cy="601.5" r="0.4" fill="#aaa"/>
<circle cx="470.1" cy="602.8" r="0.4" fill="#aaa"/>
<circle cx="480.2" cy="579.2" r="0.4" fill="#aaa"/>
<circle cx="495.0" cy="584.6" r="0.4" fill="#aaa"/>
<path d="M316 616 H303.6 V658.3 H317 M320 624 V655 M317 668.5 H303.8 V714 H317 M288.7 721.1 H316.8 M288.7 738.7 H316.5" fill="none" stroke="#bbb" stroke-width="0.7"/>
<text transform="translate(372.30 772.60)" font-size="10.8" text-anchor="middle" fill="#333" stroke="#333" stroke-width="0.3">(gated on CD45<tspan dy="-0.34em" font-size="70%">+</tspan><tspan dy="0.238em"> cells)</tspan></text>
<text transform="translate(427.60 722.80) rotate(-90)" font-size="12.8" text-anchor="middle" fill="#222" stroke="#222" stroke-width="0.3">KikR</text>
<text transform="translate(455.20 762.60)" font-size="13" text-anchor="middle" fill="#222" stroke="#222" stroke-width="0.3">KikG</text>
<path d="M438.2 706 V744.7 H478" fill="none" stroke="#111" stroke-width="1.4"/>
<path d="M435 708.5 L438.2 700.5 L441.4 708.5 Z M476 741.6 L484 744.7 L476 747.8 Z" fill="#111"/>
<text transform="translate(630.30 537.90)" font-size="18.2" text-anchor="middle" fill="#222" stroke="#222" stroke-width="0.4">YB328</text>
<text transform="translate(782.00 537.90)" font-size="18.2" text-anchor="middle" font-style="italic" fill="#222" stroke="#222" stroke-width="0.4">P. vulgatus</text>
<rect x="552.70" y="547.30" width="289.40" height="192.90" fill="#000"/>
<clipPath id="cpf"><rect x="552.7" y="547.3" width="289.4" height="192.9"/></clipPath>
<g clip-path="url(#cpf)">
<g filter="url(#bl2)">
<ellipse cx="612.5" cy="574" rx="5" ry="3" fill="#3c3c3c" transform="rotate(35 612.5 574)"/>
<ellipse cx="650.5" cy="570.5" rx="5.5" ry="3.2" fill="#484848" transform="rotate(-30 650.5 570.5)"/>
<path d="M615 578 L624 590 M647 575 L636 588" stroke="#4a4a4a" stroke-width="2.2" fill="none"/>
<path d="M624 587 C630 583 644 583 650 589 C654 598 653 610 653 620 C656 632 658 644 659 656 C661 668 663 680 662 690 C660 700 650 708 638 710 C624 713 606 712 596 704 C586 696 583 686 588 676 C594 664 602 654 603 642 C603 630 606 620 609 612 C612 602 616 592 624 587 Z" fill="#959595"/>
<path d="M594 686 C590 698 590 706 591 714" stroke="#a0a0a0" stroke-width="11" fill="none" stroke-linecap="round"/>
<path d="M655 688 C658 700 658 710 657 720" stroke="#a0a0a0" stroke-width="10" fill="none" stroke-linecap="round"/>
<path d="M591 714 C582 721 570 726 557 731" stroke="#b4b4b4" stroke-width="5" fill="none" stroke-linecap="round"/>
<path d="M657 720 C664 729 673 734 683 738" stroke="#b4b4b4" stroke-width="5" fill="none" stroke-linecap="round"/>
<path d="M604 700 C612 716 620 730 622 742 L631 742 C633 730 640 716 650 700 Z" fill="#a8a8a8"/>
</g>
<g filter="url(#bl3)">
<ellipse cx="630" cy="640" rx="12" ry="52" fill="#fff"/>
<ellipse cx="626" cy="686" rx="22" ry="20" fill="#d0d0d0"/>
<ellipse cx="635" cy="600" rx="10.5" ry="12" fill="#fff"/>
</g>
<g filter="url(#bl4)"><ellipse cx="628" cy="636" rx="3.4" ry="40" fill="#fff"/></g>
<g filter="url(#bl1)">
<path d="M657.5 642 C661 648 662.5 656 660 662 C657 666.5 649 667 645 664 C645.5 657 650 648 657.5 642 Z" fill="#e01000"/>
<path d="M656.5 647.5 C659 652 659.5 657 657.5 661 C654.5 663.5 650 663 648.3 661.3 C649.5 656 652.5 651 656.5 647.5 Z" fill="#ff7a00"/>
<ellipse cx="654" cy="655.8" rx="2.6" ry="4" fill="#ffee20" transform="rotate(35 654 655.8)"/>
</g>
<ellipse cx="650.3" cy="679" rx="5" ry="6" fill="none" stroke="#e8e8e8" stroke-width="1"/>
<g filter="url(#bl2)">
<ellipse cx="742" cy="583.5" rx="6.5" ry="2.6" fill="#343434" transform="rotate(15 742 583.5)"/>
<ellipse cx="790.5" cy="581" rx="6.5" ry="2.8" fill="#343434" transform="rotate(-20 790.5 581)"/>
<path d="M756 603 C762 597 786 597 792 603 C797 611 795 620 791 628 C796 634 797 642 794 648 C798 656 802 664 805 674 C810 686 808 698 798 706 C786 714 760 715 748 708 C736 700 731 690 736 678 C741 666 748 658 750 648 C747 640 749 632 755 627 C751 619 750 610 756 603 Z" fill="#858585"/>
<path d="M740 688 C736 700 736 708 736 714" stroke="#a0a0a0" stroke-width="11" fill="none" stroke-linecap="round"/>
<path d="M802 688 C803 702 801 712 800 720" stroke="#a0a0a0" stroke-width="10" fill="none" stroke-linecap="round"/>
<path d="M736 715 C726 722 714 724 701 727" stroke="#b8b8b8" stroke-width="5" fill="none" stroke-linecap="round"/>
<path d="M800 721 C808 730 820 734 832 738" stroke="#b8b8b8" stroke-width="5" fill="none" stroke-linecap="round"/>
<path d="M750 702 C758 716 766 730 768 742 L777 742 C779 730 786 716 794 702 Z" fill="#a8a8a8"/>
</g>
<g filter="url(#bl3)">
<ellipse cx="773" cy="610" rx="17" ry="10" fill="#fff"/>
<ellipse cx="769" cy="684" rx="21" ry="27" fill="#dcdcdc"/>
<ellipse cx="772" cy="640" rx="8" ry="20" fill="#bbb"/>
</g>
<g filter="url(#bl4)"><ellipse cx="773" cy="608" rx="11" ry="5" fill="#fff"/><ellipse cx="768" cy="680" rx="5" ry="18" fill="#f4f4f4"/></g>
<path d="M786 671 C788 668.3 792 668 794 669.5 C797 669.3 799.5 670.5 799 672.8 C797.5 675.5 793.5 676 791 677.6 C788.5 678 786.3 676 786 671 Z" fill="#c8100e" filter="url(#bl1)"/>
<ellipse cx="786.5" cy="695.7" rx="4.8" ry="6.4" fill="none" stroke="#e0e0e0" stroke-width="1"/>
</g>
<text transform="translate(558.00 654.20)" font-size="10.6" font-weight="500" fill="#d2d2d2" stroke="#d2d2d2" stroke-width="0.12">非所属</text>
<text transform="translate(559.00 667.40)" font-size="10.6" font-weight="500" fill="#d2d2d2" stroke="#d2d2d2" stroke-width="0.12">リンパ節</text>
<text transform="translate(670.60 653.20)" font-size="10.6" font-weight="500" fill="#d2d2d2" stroke="#d2d2d2" stroke-width="0.12">所属リンパ節</text>
<text transform="translate(639.40 700.20)" font-size="10.6" font-weight="500" fill="#d2d2d2" stroke="#d2d2d2" stroke-width="0.12">腫瘍</text>
<text transform="translate(792.80 647.50)" font-size="10.6" font-weight="500" fill="#d2d2d2" stroke="#d2d2d2" stroke-width="0.12">所属</text>
<text transform="translate(793.00 660.20)" font-size="10.6" font-weight="500" fill="#d2d2d2" stroke="#d2d2d2" stroke-width="0.12">リンパ節</text>
<text transform="translate(699.80 669.60)" font-size="10.6" font-weight="500" fill="#d2d2d2" stroke="#d2d2d2" stroke-width="0.12">非所属</text>
<text transform="translate(699.80 682.90)" font-size="10.6" font-weight="500" fill="#d2d2d2" stroke="#d2d2d2" stroke-width="0.12">リンパ節</text>
<text transform="translate(792.40 713.80)" font-size="10.6" font-weight="500" fill="#d2d2d2" stroke="#d2d2d2" stroke-width="0.12">腫瘍</text>
<path d="M548.5 751.8 H579.7 V743.9 H779.3 V781.6 H579.7 V775.1 H548.5 Z" fill="#fff" stroke="#bbb" stroke-width="0.8"/>
<rect x="550.60" y="754.60" width="192.80" height="11.00" fill="url(#gK)" stroke="#111" stroke-width="0.9"/>
<line x1="559.92" y1="765.80" x2="559.92" y2="769.00" stroke="#111" stroke-width="1.2"/>
<line x1="571.74" y1="765.80" x2="571.74" y2="769.00" stroke="#111" stroke-width="1.2"/>
<line x1="583.56" y1="765.80" x2="583.56" y2="769.00" stroke="#111" stroke-width="1.2"/>
<line x1="595.38" y1="765.80" x2="595.38" y2="769.00" stroke="#111" stroke-width="1.2"/>
<line x1="607.20" y1="765.80" x2="607.20" y2="770.80" stroke="#111" stroke-width="1.2"/>
<line x1="619.02" y1="765.80" x2="619.02" y2="769.00" stroke="#111" stroke-width="1.2"/>
<line x1="630.84" y1="765.80" x2="630.84" y2="769.00" stroke="#111" stroke-width="1.2"/>
<line x1="642.66" y1="765.80" x2="642.66" y2="769.00" stroke="#111" stroke-width="1.2"/>
<line x1="654.48" y1="765.80" x2="654.48" y2="769.00" stroke="#111" stroke-width="1.2"/>
<line x1="666.30" y1="765.80" x2="666.30" y2="770.80" stroke="#111" stroke-width="1.2"/>
<line x1="678.12" y1="765.80" x2="678.12" y2="769.00" stroke="#111" stroke-width="1.2"/>
<line x1="689.94" y1="765.80" x2="689.94" y2="769.00" stroke="#111" stroke-width="1.2"/>
<line x1="701.76" y1="765.80" x2="701.76" y2="769.00" stroke="#111" stroke-width="1.2"/>
<line x1="713.58" y1="765.80" x2="713.58" y2="769.00" stroke="#111" stroke-width="1.2"/>
<line x1="725.40" y1="765.80" x2="725.40" y2="770.80" stroke="#111" stroke-width="1.2"/>
<line x1="737.22" y1="765.80" x2="737.22" y2="769.00" stroke="#111" stroke-width="1.2"/>
<text transform="translate(607.20 780.80)" font-size="10.2" text-anchor="middle" fill="#444" stroke="#444" stroke-width="0.3">0.5</text>
<text transform="translate(666.30 780.80)" font-size="10.2" text-anchor="middle" fill="#444" stroke="#444" stroke-width="0.3">1.0</text>
<text transform="translate(725.30 780.80)" font-size="10.2" text-anchor="middle" fill="#444" stroke="#444" stroke-width="0.3">1.5</text>
<text transform="translate(648.50 794.30)" font-size="10.2" text-anchor="middle" fill="#444" stroke="#444" stroke-width="0.3">x10<tspan dy="-0.34em" font-size="70%">9</tspan></text>
<text transform="translate(747.00 766.60)" font-size="18" fill="#222" stroke="#222" stroke-width="0.4">KikR</text>
<text transform="translate(791.20 759.60)" font-size="8.2" fill="#555" stroke="#555" stroke-width="0.2">Radiance (Photons)</text>
<text transform="translate(791.20 768.90)" font-size="8.2" fill="#555" stroke="#555" stroke-width="0.2">(p/sec/cm<tspan dy="-0.34em" font-size="70%">2</tspan><tspan dy="0.238em">/sr)</tspan></text>
<!--EF-->
</svg>
</body></html>
